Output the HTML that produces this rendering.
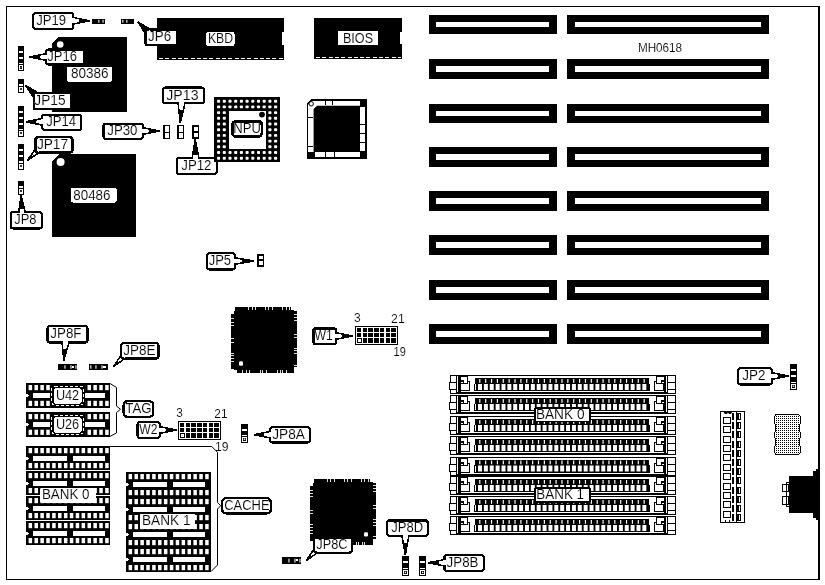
<!DOCTYPE html>
<html lang="en">
<head>
<meta charset="utf-8">
<title>MH0618 motherboard layout</title>
<style>
html,body{margin:0;padding:0;background:#fff;}
body{width:825px;height:585px;overflow:hidden;}
svg{display:block;filter:grayscale(1);}
svg text{font-family:"Liberation Sans",sans-serif;fill:#000;stroke:#fff;stroke-width:0.12px;paint-order:fill stroke;}
</style>
</head>
<body>
<svg width="825" height="585" viewBox="0 0 825 585" shape-rendering="crispEdges">
<defs>
<pattern id="ht" x="0" y="0" width="2" height="2" patternUnits="userSpaceOnUse">
<rect x="0" y="0" width="2" height="2" fill="#fff"/><rect x="0" y="0" width="1" height="1" fill="#000"/>
</pattern>
</defs>
<rect x="0" y="0" width="825" height="585" fill="#fff"/>
<rect x="6.5" y="6.5" width="812" height="573" fill="#fff" stroke="#000" stroke-width="1"/>
<rect x="818" y="6" width="2" height="574" fill="#000" />
<rect x="429" y="15" width="128" height="19" fill="#000" />
<rect x="436" y="22" width="113" height="5" fill="#fff" />
<rect x="567" y="15" width="202" height="19" fill="#000" />
<rect x="575" y="22" width="186" height="5" fill="#fff" />
<rect x="429" y="59" width="128" height="20" fill="#000" />
<rect x="436" y="66" width="113" height="6" fill="#fff" />
<rect x="567" y="59" width="202" height="20" fill="#000" />
<rect x="575" y="66" width="186" height="6" fill="#fff" />
<rect x="429" y="104" width="128" height="19" fill="#000" />
<rect x="436" y="111" width="113" height="5" fill="#fff" />
<rect x="567" y="104" width="202" height="19" fill="#000" />
<rect x="575" y="111" width="186" height="5" fill="#fff" />
<rect x="429" y="147" width="128" height="20" fill="#000" />
<rect x="436" y="154" width="113" height="6" fill="#fff" />
<rect x="567" y="147" width="202" height="20" fill="#000" />
<rect x="575" y="154" width="186" height="6" fill="#fff" />
<rect x="429" y="191" width="128" height="20" fill="#000" />
<rect x="436" y="198" width="113" height="6" fill="#fff" />
<rect x="567" y="191" width="202" height="20" fill="#000" />
<rect x="575" y="198" width="186" height="6" fill="#fff" />
<rect x="429" y="235" width="128" height="20" fill="#000" />
<rect x="436" y="242" width="113" height="6" fill="#fff" />
<rect x="567" y="235" width="202" height="20" fill="#000" />
<rect x="575" y="242" width="186" height="6" fill="#fff" />
<rect x="429" y="280" width="128" height="20" fill="#000" />
<rect x="436" y="287" width="113" height="6" fill="#fff" />
<rect x="567" y="280" width="202" height="20" fill="#000" />
<rect x="575" y="287" width="186" height="6" fill="#fff" />
<rect x="429" y="324" width="128" height="20" fill="#000" />
<rect x="436" y="331" width="113" height="6" fill="#fff" />
<rect x="567" y="324" width="202" height="20" fill="#000" />
<rect x="575" y="331" width="186" height="6" fill="#fff" />
<text x="637.9" y="52" font-size="12" textLength="44.2" lengthAdjust="spacingAndGlyphs">MH0618</text>
<rect x="157" y="18" width="127" height="41.6" fill="#000" />
<line x1="159" y1="58.1" x2="283" y2="58.1" stroke="#fff" stroke-width="1" stroke-dasharray="4 2.3"/>
<rect x="282" y="32" width="2.5" height="13" fill="#fff" />
<rect x="206" y="32" width="28.6" height="14" rx="2.6" ry="2.6" fill="#fff"/>
<text x="207.9" y="42.7" font-size="14" textLength="25.2" lengthAdjust="spacingAndGlyphs">KBD</text>
<rect x="314" y="18" width="88" height="40.6" fill="#000" />
<line x1="316" y1="57.1" x2="401" y2="57.1" stroke="#fff" stroke-width="1" stroke-dasharray="4 2.3"/>
<rect x="400" y="32" width="2.5" height="12" fill="#fff" />
<rect x="338" y="31" width="40" height="14" rx="0" ry="0" fill="#fff"/>
<text x="342.9" y="42.6" font-size="14" textLength="30.2" lengthAdjust="spacingAndGlyphs">BIOS</text>
<polygon points="52,43 58,37 127,37 127,112 52,112" fill="#000"/>
<circle cx="60.2" cy="44.5" r="3.3" fill="#fff" shape-rendering="auto"/>
<polygon points="52,161 59,154 136,154 136,237 52,237" fill="#000"/>
<circle cx="60.6" cy="162" r="4" fill="#fff" shape-rendering="auto"/>
<rect x="92" y="18.5" width="13" height="5.5" fill="#000" />
<rect x="98.3" y="19.8" width="1.1" height="2.9" fill="#fff" shape-rendering="auto"/>
<rect x="102.5" y="19.8" width="1.1" height="2.9" fill="#fff" shape-rendering="auto"/>
<polygon points="73.5,17.6 89.5,20.8 73.5,24" fill="#fff" stroke="#000" stroke-width="1.6" stroke-linejoin="miter"/>
<polygon points="79.58,18.816 89.5,20.8 79.58,22.784" fill="#000" stroke="#000" stroke-width="1"/>
<rect x="33.1" y="13.1" width="40.3" height="15.8" rx="2.6" ry="2.6" fill="#fff" stroke="#000" stroke-width="2.2"/>
<rect x="72.1" y="18.4" width="2.6" height="4.8" fill="#fff" />
<text x="36.3" y="25.1" font-size="14" textLength="29.8" lengthAdjust="spacingAndGlyphs">JP19</text>
<rect x="121" y="18.5" width="13" height="5.5" fill="#000" />
<rect x="122.3" y="19.8" width="1.1" height="2.9" fill="#fff" shape-rendering="auto"/>
<rect x="126.3" y="19.8" width="1.1" height="2.9" fill="#fff" shape-rendering="auto"/>
<rect x="18" y="46" width="6" height="25" fill="#000" />
<rect x="19" y="51" width="4" height="2" fill="#fff" />
<rect x="19" y="57" width="4" height="2" fill="#fff" />
<rect x="19" y="63" width="4" height="1.2" fill="#fff" />
<rect x="19" y="65" width="4" height="5" fill="#fff" />
<rect x="20" y="66" width="2" height="2.8" fill="#000" />
<rect x="20.7" y="66.7" width="0.6" height="1.4" fill="#fff" shape-rendering="auto"/>
<polygon points="46,53.8 29,57 46,60.2" fill="#fff" stroke="#000" stroke-width="1.6" stroke-linejoin="miter"/>
<polygon points="39.54,55.016 29,57 39.54,58.984" fill="#000" stroke="#000" stroke-width="1"/>
<rect x="46.1" y="49.5" width="38.4" height="15" rx="2.6" ry="2.6" fill="#fff" stroke="#000" stroke-width="2.2"/>
<rect x="44.8" y="54.6" width="2.6" height="4.8" fill="#fff" />
<text x="47.3" y="61.1" font-size="14" textLength="29.6" lengthAdjust="spacingAndGlyphs">JP16</text>
<rect x="67" y="67" width="45" height="14.6" rx="1.5" ry="1.5" fill="#fff"/>
<text x="70.9" y="78" font-size="14" textLength="37.6" lengthAdjust="spacingAndGlyphs">80386</text>
<rect x="18" y="79" width="6" height="13.6" fill="#000" />
<rect x="19" y="84.3" width="4" height="1.2" fill="#fff" />
<rect x="19" y="86.6" width="4" height="5" fill="#fff" />
<rect x="20" y="87.6" width="2" height="2.8" fill="#000" />
<rect x="20.7" y="88.3" width="0.6" height="1.4" fill="#fff" shape-rendering="auto"/>
<rect x="18" y="106" width="6" height="30.6" fill="#000" />
<rect x="19" y="110.92" width="4" height="2" fill="#fff" />
<rect x="19" y="116.84" width="4" height="2" fill="#fff" />
<rect x="19" y="122.76" width="4" height="2" fill="#fff" />
<rect x="19" y="128.68" width="4" height="1.2" fill="#fff" />
<rect x="19" y="130.6" width="4" height="5" fill="#fff" />
<rect x="20" y="131.6" width="2" height="2.8" fill="#000" />
<rect x="20.7" y="132.3" width="0.6" height="1.4" fill="#fff" shape-rendering="auto"/>
<polygon points="42,118.6 26,121.8 42,125" fill="#fff" stroke="#000" stroke-width="1.6" stroke-linejoin="miter"/>
<polygon points="35.92,119.816 26,121.8 35.92,123.784" fill="#000" stroke="#000" stroke-width="1"/>
<rect x="42.1" y="114.7" width="39.2" height="15.2" rx="2.6" ry="2.6" fill="#fff" stroke="#000" stroke-width="2.2"/>
<rect x="40.8" y="119.4" width="2.6" height="4.8" fill="#fff" />
<text x="46.3" y="126.4" font-size="14" textLength="29.8" lengthAdjust="spacingAndGlyphs">JP14</text>
<rect x="18" y="144" width="6" height="25.6" fill="#000" />
<rect x="19" y="149.15" width="4" height="2" fill="#fff" />
<rect x="19" y="155.3" width="4" height="2" fill="#fff" />
<rect x="19" y="161.45" width="4" height="1.2" fill="#fff" />
<rect x="19" y="163.6" width="4" height="5" fill="#fff" />
<rect x="20" y="164.6" width="2" height="2.8" fill="#000" />
<rect x="20.7" y="165.3" width="0.6" height="1.4" fill="#fff" shape-rendering="auto"/>
<rect x="18" y="181" width="6" height="13.6" fill="#000" />
<rect x="19" y="186.3" width="4" height="1.2" fill="#fff" />
<rect x="19" y="188.6" width="4" height="5" fill="#fff" />
<rect x="20" y="189.6" width="2" height="2.8" fill="#000" />
<rect x="20.7" y="190.3" width="0.6" height="1.4" fill="#fff" shape-rendering="auto"/>
<polygon points="143,127.8 160,131 143,134.2" fill="#fff" stroke="#000" stroke-width="1.6" stroke-linejoin="miter"/>
<polygon points="149.46,129.016 160,131 149.46,132.984" fill="#000" stroke="#000" stroke-width="1"/>
<rect x="103.5" y="123.7" width="39.4" height="15.2" rx="2.6" ry="2.6" fill="#fff" stroke="#000" stroke-width="2.2"/>
<rect x="141.6" y="128.6" width="2.6" height="4.8" fill="#fff" />
<text x="107.3" y="135.4" font-size="14" textLength="30.2" lengthAdjust="spacingAndGlyphs">JP30</text>
<rect x="162.6" y="125" width="7.4" height="14.4" fill="#000" />
<rect x="164.6" y="126.2" width="4.4" height="5.5" fill="#fff" />
<rect x="164.6" y="132.7" width="4.4" height="5.5" fill="#fff" />
<rect x="177" y="125" width="7.4" height="14.4" fill="#000" />
<rect x="179" y="126.2" width="4.4" height="5.5" fill="#fff" />
<rect x="179" y="132.7" width="4.4" height="5.5" fill="#fff" />
<rect x="192" y="125" width="6.6" height="14.4" fill="#000" />
<rect x="194" y="127" width="3.6" height="4.2" fill="#fff" />
<rect x="194" y="133.2" width="3.6" height="4.2" fill="#fff" />
<polygon points="178.1,103.4 180.3,123 184.9,103.4" fill="#fff" stroke="#000" stroke-width="1.6" stroke-linejoin="miter"/>
<polygon points="178.936,110.848 180.3,123 183.152,110.848" fill="#000" stroke="#000" stroke-width="1"/>
<rect x="163.1" y="87.5" width="40.8" height="15.8" rx="2.6" ry="2.6" fill="#fff" stroke="#000" stroke-width="2.2"/>
<rect x="178.9" y="102" width="5.2" height="2.6" fill="#fff" />
<text x="166.3" y="99.5" font-size="14" textLength="32.2" lengthAdjust="spacingAndGlyphs">JP13</text>
<polygon points="192.1,158 195.3,139.5 198.9,158" fill="#fff" stroke="#000" stroke-width="1.6" stroke-linejoin="miter"/>
<polygon points="192.74,154.3 195.3,139.5 198.18,154.3" fill="#000" stroke="#000" stroke-width="1"/>
<rect x="176.7" y="158.1" width="40.2" height="15.8" rx="2.6" ry="2.6" fill="#fff" stroke="#000" stroke-width="2.2"/>
<rect x="192.9" y="156.8" width="5.2" height="2.6" fill="#fff" />
<text x="181.3" y="170.1" font-size="14" textLength="30.2" lengthAdjust="spacingAndGlyphs">JP12</text>
<rect x="71" y="187.6" width="45.6" height="15" rx="2.5" ry="2.5" fill="#fff"/>
<text x="73.3" y="199.6" font-size="14" textLength="37.2" lengthAdjust="spacingAndGlyphs">80486</text>
<polygon points="145.1,33.3 138,22 149.8,29.1" fill="#fff" stroke="#000" stroke-width="1.6"/>
<polygon points="143.68,31.04 138,22 147.44,27.68" fill="#000" stroke="#000" stroke-width="1.2"/>
<rect x="145.4" y="29.4" width="32" height="15.8" rx="2.6" ry="2.6" fill="#fff" stroke="#000" stroke-width="2.2"/>
<polygon points="146,33.3 149.8,30 150.8,32.3 148.3,33.3" fill="#fff"/>
<text x="148" y="41.4" font-size="14" textLength="23.1" lengthAdjust="spacingAndGlyphs">JP6</text>
<polygon points="33.3,97 25.5,85.5 38,92.8" fill="#fff" stroke="#000" stroke-width="1.6"/>
<polygon points="31.74,94.7 25.5,85.5 35.5,91.34" fill="#000" stroke="#000" stroke-width="1.2"/>
<rect x="33.6" y="93.1" width="37.8" height="16.3" rx="2.6" ry="2.6" fill="#fff" stroke="#000" stroke-width="2.2"/>
<polygon points="34.2,97 38,93.7 39,96 36.5,97" fill="#fff"/>
<text x="34.3" y="104.75" font-size="14" textLength="31.2" lengthAdjust="spacingAndGlyphs">JP15</text>
<polygon points="35.1,149.6 27.3,160.6 38.8,152.8" fill="#fff" stroke="#000" stroke-width="1.6"/>
<polygon points="30.42,156.2 27.3,160.6 31.9,157.48" fill="#000" stroke="#000" stroke-width="1.2"/>
<rect x="35.4" y="137.3" width="37.1" height="15.2" rx="2.6" ry="2.6" fill="#fff" stroke="#000" stroke-width="2.2"/>
<polygon points="36,149.6 38.8,151.9 39.8,149.6 38.3,149.6" fill="#fff"/>
<text x="36.9" y="149" font-size="14" textLength="31.2" lengthAdjust="spacingAndGlyphs">JP17</text>
<polygon points="18.8,212 21,195.5 25.2,212" fill="#fff" stroke="#000" stroke-width="1.6" stroke-linejoin="miter"/>
<polygon points="19.24,208.7 21,195.5 24.36,208.7" fill="#000" stroke="#000" stroke-width="1"/>
<rect x="10.7" y="212.1" width="31.2" height="16.4" rx="2.6" ry="2.6" fill="#fff" stroke="#000" stroke-width="2.2"/>
<rect x="19.6" y="210.8" width="4.8" height="2.6" fill="#fff" />
<text x="14.3" y="224.4" font-size="14" textLength="22.2" lengthAdjust="spacingAndGlyphs">JP8</text>
<rect x="214" y="97" width="66" height="65" fill="#000" />
<rect x="217.05" y="99.75" width="3.1" height="2.9" rx="0.9" fill="#fff" shape-rendering="auto"/>
<rect x="217.05" y="105.45" width="3.1" height="2.9" rx="0.9" fill="#fff" shape-rendering="auto"/>
<rect x="217.05" y="111.15" width="3.1" height="2.9" rx="0.9" fill="#fff" shape-rendering="auto"/>
<rect x="217.05" y="116.85" width="3.1" height="2.9" rx="0.9" fill="#fff" shape-rendering="auto"/>
<rect x="217.05" y="122.55" width="3.1" height="2.9" rx="0.9" fill="#fff" shape-rendering="auto"/>
<rect x="217.05" y="128.25" width="3.1" height="2.9" rx="0.9" fill="#fff" shape-rendering="auto"/>
<rect x="217.05" y="133.95" width="3.1" height="2.9" rx="0.9" fill="#fff" shape-rendering="auto"/>
<rect x="217.05" y="139.65" width="3.1" height="2.9" rx="0.9" fill="#fff" shape-rendering="auto"/>
<rect x="217.05" y="145.35" width="3.1" height="2.9" rx="0.9" fill="#fff" shape-rendering="auto"/>
<rect x="217.05" y="151.05" width="3.1" height="2.9" rx="0.9" fill="#fff" shape-rendering="auto"/>
<rect x="217.05" y="156.75" width="3.1" height="2.9" rx="0.9" fill="#fff" shape-rendering="auto"/>
<rect x="222.75" y="99.75" width="3.1" height="2.9" rx="0.9" fill="#fff" shape-rendering="auto"/>
<rect x="222.75" y="105.45" width="3.1" height="2.9" rx="0.9" fill="#fff" shape-rendering="auto"/>
<rect x="222.75" y="111.15" width="3.1" height="2.9" rx="0.9" fill="#fff" shape-rendering="auto"/>
<rect x="222.75" y="116.85" width="3.1" height="2.9" rx="0.9" fill="#fff" shape-rendering="auto"/>
<rect x="222.75" y="122.55" width="3.1" height="2.9" rx="0.9" fill="#fff" shape-rendering="auto"/>
<rect x="222.75" y="128.25" width="3.1" height="2.9" rx="0.9" fill="#fff" shape-rendering="auto"/>
<rect x="222.75" y="133.95" width="3.1" height="2.9" rx="0.9" fill="#fff" shape-rendering="auto"/>
<rect x="222.75" y="139.65" width="3.1" height="2.9" rx="0.9" fill="#fff" shape-rendering="auto"/>
<rect x="222.75" y="145.35" width="3.1" height="2.9" rx="0.9" fill="#fff" shape-rendering="auto"/>
<rect x="222.75" y="151.05" width="3.1" height="2.9" rx="0.9" fill="#fff" shape-rendering="auto"/>
<rect x="222.75" y="156.75" width="3.1" height="2.9" rx="0.9" fill="#fff" shape-rendering="auto"/>
<rect x="228.45" y="99.75" width="3.1" height="2.9" rx="0.9" fill="#fff" shape-rendering="auto"/>
<rect x="228.45" y="105.45" width="3.1" height="2.9" rx="0.9" fill="#fff" shape-rendering="auto"/>
<rect x="228.45" y="151.05" width="3.1" height="2.9" rx="0.9" fill="#fff" shape-rendering="auto"/>
<rect x="228.45" y="156.75" width="3.1" height="2.9" rx="0.9" fill="#fff" shape-rendering="auto"/>
<rect x="234.15" y="99.75" width="3.1" height="2.9" rx="0.9" fill="#fff" shape-rendering="auto"/>
<rect x="234.15" y="105.45" width="3.1" height="2.9" rx="0.9" fill="#fff" shape-rendering="auto"/>
<rect x="234.15" y="151.05" width="3.1" height="2.9" rx="0.9" fill="#fff" shape-rendering="auto"/>
<rect x="234.15" y="156.75" width="3.1" height="2.9" rx="0.9" fill="#fff" shape-rendering="auto"/>
<rect x="239.85" y="99.75" width="3.1" height="2.9" rx="0.9" fill="#fff" shape-rendering="auto"/>
<rect x="239.85" y="105.45" width="3.1" height="2.9" rx="0.9" fill="#fff" shape-rendering="auto"/>
<rect x="239.85" y="151.05" width="3.1" height="2.9" rx="0.9" fill="#fff" shape-rendering="auto"/>
<rect x="239.85" y="156.75" width="3.1" height="2.9" rx="0.9" fill="#fff" shape-rendering="auto"/>
<rect x="245.55" y="99.75" width="3.1" height="2.9" rx="0.9" fill="#fff" shape-rendering="auto"/>
<rect x="245.55" y="105.45" width="3.1" height="2.9" rx="0.9" fill="#fff" shape-rendering="auto"/>
<rect x="245.55" y="151.05" width="3.1" height="2.9" rx="0.9" fill="#fff" shape-rendering="auto"/>
<rect x="245.55" y="156.75" width="3.1" height="2.9" rx="0.9" fill="#fff" shape-rendering="auto"/>
<rect x="251.25" y="99.75" width="3.1" height="2.9" rx="0.9" fill="#fff" shape-rendering="auto"/>
<rect x="251.25" y="105.45" width="3.1" height="2.9" rx="0.9" fill="#fff" shape-rendering="auto"/>
<rect x="251.25" y="151.05" width="3.1" height="2.9" rx="0.9" fill="#fff" shape-rendering="auto"/>
<rect x="251.25" y="156.75" width="3.1" height="2.9" rx="0.9" fill="#fff" shape-rendering="auto"/>
<rect x="256.95" y="99.75" width="3.1" height="2.9" rx="0.9" fill="#fff" shape-rendering="auto"/>
<rect x="256.95" y="105.45" width="3.1" height="2.9" rx="0.9" fill="#fff" shape-rendering="auto"/>
<rect x="256.95" y="151.05" width="3.1" height="2.9" rx="0.9" fill="#fff" shape-rendering="auto"/>
<rect x="256.95" y="156.75" width="3.1" height="2.9" rx="0.9" fill="#fff" shape-rendering="auto"/>
<rect x="262.65" y="99.75" width="3.1" height="2.9" rx="0.9" fill="#fff" shape-rendering="auto"/>
<rect x="262.65" y="105.45" width="3.1" height="2.9" rx="0.9" fill="#fff" shape-rendering="auto"/>
<rect x="262.65" y="151.05" width="3.1" height="2.9" rx="0.9" fill="#fff" shape-rendering="auto"/>
<rect x="262.65" y="156.75" width="3.1" height="2.9" rx="0.9" fill="#fff" shape-rendering="auto"/>
<rect x="268.35" y="99.75" width="3.1" height="2.9" rx="0.9" fill="#fff" shape-rendering="auto"/>
<rect x="268.35" y="105.45" width="3.1" height="2.9" rx="0.9" fill="#fff" shape-rendering="auto"/>
<rect x="268.35" y="111.15" width="3.1" height="2.9" rx="0.9" fill="#fff" shape-rendering="auto"/>
<rect x="268.35" y="116.85" width="3.1" height="2.9" rx="0.9" fill="#fff" shape-rendering="auto"/>
<rect x="268.35" y="122.55" width="3.1" height="2.9" rx="0.9" fill="#fff" shape-rendering="auto"/>
<rect x="268.35" y="128.25" width="3.1" height="2.9" rx="0.9" fill="#fff" shape-rendering="auto"/>
<rect x="268.35" y="133.95" width="3.1" height="2.9" rx="0.9" fill="#fff" shape-rendering="auto"/>
<rect x="268.35" y="139.65" width="3.1" height="2.9" rx="0.9" fill="#fff" shape-rendering="auto"/>
<rect x="268.35" y="145.35" width="3.1" height="2.9" rx="0.9" fill="#fff" shape-rendering="auto"/>
<rect x="268.35" y="151.05" width="3.1" height="2.9" rx="0.9" fill="#fff" shape-rendering="auto"/>
<rect x="268.35" y="156.75" width="3.1" height="2.9" rx="0.9" fill="#fff" shape-rendering="auto"/>
<rect x="274.05" y="99.75" width="3.1" height="2.9" rx="0.9" fill="#fff" shape-rendering="auto"/>
<rect x="274.05" y="105.45" width="3.1" height="2.9" rx="0.9" fill="#fff" shape-rendering="auto"/>
<rect x="274.05" y="111.15" width="3.1" height="2.9" rx="0.9" fill="#fff" shape-rendering="auto"/>
<rect x="274.05" y="116.85" width="3.1" height="2.9" rx="0.9" fill="#fff" shape-rendering="auto"/>
<rect x="274.05" y="122.55" width="3.1" height="2.9" rx="0.9" fill="#fff" shape-rendering="auto"/>
<rect x="274.05" y="128.25" width="3.1" height="2.9" rx="0.9" fill="#fff" shape-rendering="auto"/>
<rect x="274.05" y="133.95" width="3.1" height="2.9" rx="0.9" fill="#fff" shape-rendering="auto"/>
<rect x="274.05" y="139.65" width="3.1" height="2.9" rx="0.9" fill="#fff" shape-rendering="auto"/>
<rect x="274.05" y="145.35" width="3.1" height="2.9" rx="0.9" fill="#fff" shape-rendering="auto"/>
<rect x="274.05" y="151.05" width="3.1" height="2.9" rx="0.9" fill="#fff" shape-rendering="auto"/>
<rect x="274.05" y="156.75" width="3.1" height="2.9" rx="0.9" fill="#fff" shape-rendering="auto"/>
<rect x="229" y="111" width="37.4" height="37.5" fill="#fff" />
<circle cx="262" cy="114.6" r="2.9" fill="#000" shape-rendering="auto"/>
<rect x="232.4" y="121.1" width="29.5" height="15.5" rx="4" ry="4" fill="#fff" stroke="#000" stroke-width="2.8"/>
<text x="233.3" y="132.95" font-size="14" textLength="27.6" lengthAdjust="spacingAndGlyphs">NPU</text>
<polygon points="307.5,103.5 311.5,99.5 366.5,99.5 366.5,158.5 307.5,158.5" fill="#fff" stroke="#000" stroke-width="1" shape-rendering="auto"/>
<rect x="311" y="99" width="56" height="2" fill="#000" />
<polygon points="307,103.5 311.5,99 312.5,100.5 308.5,104.5" fill="#000" shape-rendering="auto"/>
<rect x="365" y="99" width="2" height="60" fill="#000" />
<rect x="307" y="157" width="60" height="2" fill="#000" />
<polygon points="313.6,109 317,105.7 360,105.7 360,152 313.6,152" fill="#000" shape-rendering="auto"/>
<rect x="359.5" y="99" width="7.5" height="7.7" fill="#000" />
<rect x="307" y="151.5" width="6.6" height="7.5" fill="#000" />
<rect x="360" y="151" width="7" height="8" fill="#000" />
<circle cx="311.2" cy="103.8" r="2.2" fill="#fff" stroke="#000" stroke-width="1" shape-rendering="auto"/>
<rect x="325" y="101" width="1" height="3.6" fill="#000" />
<rect x="332" y="101" width="1" height="3.6" fill="#000" />
<rect x="308" y="117" width="5" height="1" fill="#000" />
<rect x="308" y="146" width="5" height="1" fill="#000" />
<rect x="360" y="124" width="5" height="1" fill="#000" />
<rect x="360" y="133" width="5" height="1" fill="#000" />
<rect x="360" y="142" width="5" height="1" fill="#000" />
<rect x="325" y="152" width="1" height="5" fill="#000" />
<rect x="334" y="152" width="1" height="5" fill="#000" />
<rect x="313.6" y="152" width="1.4" height="5" fill="#000" />
<polygon points="231,314 234,314 234,311 235,311 235,307 291,307 291,310 294,310 294,311 297,311 297,367 294,367 294,373 237,373 237,370 234,370 234,369 231,369" fill="#000"/>
<rect x="248" y="307" width="1" height="3" fill="#ddd" />
<rect x="252" y="307" width="1" height="3" fill="#ddd" />
<rect x="255" y="307" width="1" height="3" fill="#ddd" />
<rect x="265" y="307" width="1" height="3" fill="#ddd" />
<rect x="268" y="307" width="1" height="3" fill="#ddd" />
<rect x="272" y="307" width="1" height="3" fill="#ddd" />
<rect x="282" y="307" width="1" height="3" fill="#ddd" />
<rect x="286" y="307" width="1" height="3" fill="#ddd" />
<rect x="289" y="307" width="1" height="3" fill="#ddd" />
<rect x="242" y="370" width="1" height="3" fill="#ddd" />
<rect x="246" y="370" width="1" height="3" fill="#ddd" />
<rect x="249" y="370" width="1" height="3" fill="#ddd" />
<rect x="260" y="370" width="1" height="3" fill="#ddd" />
<rect x="262" y="370" width="1" height="3" fill="#ddd" />
<rect x="266" y="370" width="1" height="3" fill="#ddd" />
<rect x="277" y="370" width="1" height="3" fill="#ddd" />
<rect x="280" y="370" width="1" height="3" fill="#ddd" />
<rect x="282" y="370" width="1" height="3" fill="#ddd" />
<rect x="286" y="370" width="1" height="3" fill="#ddd" />
<rect x="231" y="318" width="3" height="1" fill="#ddd" />
<rect x="231" y="322" width="3" height="1" fill="#ddd" />
<rect x="231" y="325" width="3" height="1" fill="#ddd" />
<rect x="231" y="338" width="3" height="1" fill="#ddd" />
<rect x="231" y="342" width="3" height="1" fill="#ddd" />
<rect x="231" y="353" width="3" height="1" fill="#ddd" />
<rect x="231" y="355" width="3" height="1" fill="#ddd" />
<rect x="231" y="358" width="3" height="1" fill="#ddd" />
<rect x="231" y="361" width="3" height="1" fill="#ddd" />
<rect x="294" y="314" width="3" height="1" fill="#ddd" />
<rect x="294" y="317" width="3" height="1" fill="#ddd" />
<rect x="294" y="320" width="3" height="1" fill="#ddd" />
<rect x="294" y="334" width="3" height="1" fill="#ddd" />
<rect x="294" y="337" width="3" height="1" fill="#ddd" />
<rect x="294" y="348" width="3" height="1" fill="#ddd" />
<rect x="294" y="350" width="3" height="1" fill="#ddd" />
<rect x="294" y="353" width="3" height="1" fill="#ddd" />
<rect x="294" y="365" width="3" height="1" fill="#ddd" />
<rect x="239" y="361.3" width="4" height="4.4" rx="1.3" fill="#fff" shape-rendering="auto"/>
<polygon points="310,485.6 313,485.6 313,482.6 314,482.6 314,478.6 370,478.6 370,481.6 373,481.6 373,482.6 376,482.6 376,538.6 373,538.6 373,544.6 316,544.6 316,541.6 313,541.6 313,540.6 310,540.6" fill="#000"/>
<rect x="327" y="478.6" width="1" height="3" fill="#ddd" />
<rect x="330" y="478.6" width="1" height="3" fill="#ddd" />
<rect x="334" y="478.6" width="1" height="3" fill="#ddd" />
<rect x="344" y="478.6" width="1" height="3" fill="#ddd" />
<rect x="347" y="478.6" width="1" height="3" fill="#ddd" />
<rect x="351" y="478.6" width="1" height="3" fill="#ddd" />
<rect x="361" y="478.6" width="1" height="3" fill="#ddd" />
<rect x="364" y="478.6" width="1" height="3" fill="#ddd" />
<rect x="368" y="478.6" width="1" height="3" fill="#ddd" />
<rect x="321" y="541.6" width="1" height="3" fill="#ddd" />
<rect x="325" y="541.6" width="1" height="3" fill="#ddd" />
<rect x="328" y="541.6" width="1" height="3" fill="#ddd" />
<rect x="338" y="541.6" width="1" height="3" fill="#ddd" />
<rect x="341" y="541.6" width="1" height="3" fill="#ddd" />
<rect x="345" y="541.6" width="1" height="3" fill="#ddd" />
<rect x="356" y="541.6" width="1" height="3" fill="#ddd" />
<rect x="358" y="541.6" width="1" height="3" fill="#ddd" />
<rect x="362" y="541.6" width="1" height="3" fill="#ddd" />
<rect x="364" y="541.6" width="1" height="3" fill="#ddd" />
<rect x="310" y="490" width="3" height="1" fill="#ddd" />
<rect x="310" y="493" width="3" height="1" fill="#ddd" />
<rect x="310" y="496" width="3" height="1" fill="#ddd" />
<rect x="310" y="510" width="3" height="1" fill="#ddd" />
<rect x="310" y="513" width="3" height="1" fill="#ddd" />
<rect x="310" y="524" width="3" height="1" fill="#ddd" />
<rect x="310" y="527" width="3" height="1" fill="#ddd" />
<rect x="310" y="530" width="3" height="1" fill="#ddd" />
<rect x="310" y="533" width="3" height="1" fill="#ddd" />
<rect x="373" y="485" width="3" height="1" fill="#ddd" />
<rect x="373" y="488" width="3" height="1" fill="#ddd" />
<rect x="373" y="491" width="3" height="1" fill="#ddd" />
<rect x="373" y="505" width="3" height="1" fill="#ddd" />
<rect x="373" y="508" width="3" height="1" fill="#ddd" />
<rect x="373" y="519" width="3" height="1" fill="#ddd" />
<rect x="373" y="522" width="3" height="1" fill="#ddd" />
<rect x="373" y="525" width="3" height="1" fill="#ddd" />
<rect x="373" y="536" width="3" height="1" fill="#ddd" />
<rect x="364" y="532.2" width="4" height="4.4" rx="1.3" fill="#fff" shape-rendering="auto"/>
<polygon points="235,257.8 254,261 235,264.2" fill="#fff" stroke="#000" stroke-width="1.6" stroke-linejoin="miter"/>
<polygon points="242.22,259.016 254,261 242.22,262.984" fill="#000" stroke="#000" stroke-width="1"/>
<rect x="207.1" y="253.1" width="27.8" height="16.4" rx="2.6" ry="2.6" fill="#fff" stroke="#000" stroke-width="2.2"/>
<rect x="233.6" y="258.6" width="2.6" height="4.8" fill="#fff" />
<text x="208.7" y="265.4" font-size="14" textLength="22.4" lengthAdjust="spacingAndGlyphs">JP5</text>
<rect x="257" y="253.6" width="7" height="13.6" fill="#000" />
<rect x="259" y="255.6" width="4" height="3.8" fill="#fff" />
<rect x="259" y="261.4" width="4" height="3.8" fill="#fff" />
<rect x="355.5" y="326.5" width="42" height="17.7" fill="#fff" stroke="#000" stroke-width="1"/>
<rect x="357" y="328" width="4.41429" height="4.03333" fill="#000" />
<rect x="357" y="333.233" width="4.41429" height="4.03333" fill="#000" />
<rect x="357.5" y="338.967" width="3.71429" height="3.23333" fill="#fff" stroke="#000" stroke-width="1"/>
<rect x="362.714" y="328" width="4.41429" height="4.03333" fill="#000" />
<rect x="362.714" y="333.233" width="4.41429" height="4.03333" fill="#000" />
<rect x="362.714" y="338.467" width="4.41429" height="4.03333" fill="#000" />
<rect x="368.429" y="328" width="4.41429" height="4.03333" fill="#000" />
<rect x="368.429" y="333.233" width="4.41429" height="4.03333" fill="#000" />
<rect x="368.429" y="338.467" width="4.41429" height="4.03333" fill="#000" />
<rect x="374.143" y="328" width="4.41429" height="4.03333" fill="#000" />
<rect x="374.143" y="333.233" width="4.41429" height="4.03333" fill="#000" />
<rect x="374.143" y="338.467" width="4.41429" height="4.03333" fill="#000" />
<rect x="379.857" y="328" width="4.41429" height="4.03333" fill="#000" />
<rect x="379.857" y="333.233" width="4.41429" height="4.03333" fill="#000" />
<rect x="379.857" y="338.467" width="4.41429" height="4.03333" fill="#000" />
<rect x="385.571" y="328" width="4.41429" height="4.03333" fill="#000" />
<rect x="385.571" y="333.233" width="4.41429" height="4.03333" fill="#000" />
<rect x="385.571" y="338.467" width="4.41429" height="4.03333" fill="#000" />
<rect x="391.286" y="328" width="4.41429" height="4.03333" fill="#000" />
<rect x="391.286" y="333.233" width="4.41429" height="4.03333" fill="#000" />
<rect x="391.286" y="338.467" width="4.41429" height="4.03333" fill="#000" />
<polygon points="336.3,332.8 353,336 336.3,339.2" fill="#fff" stroke="#000" stroke-width="1.6" stroke-linejoin="miter"/>
<polygon points="342.646,334.016 353,336 342.646,337.984" fill="#000" stroke="#000" stroke-width="1"/>
<rect x="313.4" y="328.4" width="22.8" height="15.8" rx="2.6" ry="2.6" fill="#fff" stroke="#000" stroke-width="2.2"/>
<rect x="334.9" y="333.6" width="2.6" height="4.8" fill="#fff" />
<text x="314.6" y="340.4" font-size="14" textLength="18.3" lengthAdjust="spacingAndGlyphs">W1</text>
<text x="354" y="322" font-size="12" textLength="6.7" lengthAdjust="spacingAndGlyphs">3</text>
<text x="391.1" y="322.8" font-size="12" textLength="13.6" lengthAdjust="spacingAndGlyphs">21</text>
<text x="393.5" y="356" font-size="12" textLength="12.3" lengthAdjust="spacingAndGlyphs">19</text>
<rect x="178.5" y="421.5" width="42" height="17.7" fill="#fff" stroke="#000" stroke-width="1"/>
<rect x="180" y="423" width="4.41429" height="4.03333" fill="#000" />
<rect x="180" y="428.233" width="4.41429" height="4.03333" fill="#000" />
<rect x="180.5" y="433.967" width="3.71429" height="3.23333" fill="#fff" stroke="#000" stroke-width="1"/>
<rect x="185.714" y="423" width="4.41429" height="4.03333" fill="#000" />
<rect x="185.714" y="428.233" width="4.41429" height="4.03333" fill="#000" />
<rect x="185.714" y="433.467" width="4.41429" height="4.03333" fill="#000" />
<rect x="191.429" y="423" width="4.41429" height="4.03333" fill="#000" />
<rect x="191.429" y="428.233" width="4.41429" height="4.03333" fill="#000" />
<rect x="191.429" y="433.467" width="4.41429" height="4.03333" fill="#000" />
<rect x="197.143" y="423" width="4.41429" height="4.03333" fill="#000" />
<rect x="197.143" y="428.233" width="4.41429" height="4.03333" fill="#000" />
<rect x="197.143" y="433.467" width="4.41429" height="4.03333" fill="#000" />
<rect x="202.857" y="423" width="4.41429" height="4.03333" fill="#000" />
<rect x="202.857" y="428.233" width="4.41429" height="4.03333" fill="#000" />
<rect x="202.857" y="433.467" width="4.41429" height="4.03333" fill="#000" />
<rect x="208.571" y="423" width="4.41429" height="4.03333" fill="#000" />
<rect x="208.571" y="428.233" width="4.41429" height="4.03333" fill="#000" />
<rect x="208.571" y="433.467" width="4.41429" height="4.03333" fill="#000" />
<rect x="214.286" y="423" width="4.41429" height="4.03333" fill="#000" />
<rect x="214.286" y="428.233" width="4.41429" height="4.03333" fill="#000" />
<rect x="214.286" y="433.467" width="4.41429" height="4.03333" fill="#000" />
<polygon points="160,426.8 177,430 160,433.2" fill="#fff" stroke="#000" stroke-width="1.6" stroke-linejoin="miter"/>
<polygon points="166.46,428.016 177,430 166.46,431.984" fill="#000" stroke="#000" stroke-width="1"/>
<rect x="137.5" y="422.1" width="22.4" height="15.8" rx="2.6" ry="2.6" fill="#fff" stroke="#000" stroke-width="2.2"/>
<rect x="158.6" y="427.6" width="2.6" height="4.8" fill="#fff" />
<text x="139.3" y="434.1" font-size="14" textLength="18.2" lengthAdjust="spacingAndGlyphs">W2</text>
<text x="176.3" y="417" font-size="12" textLength="6.6" lengthAdjust="spacingAndGlyphs">3</text>
<text x="214.3" y="417.8" font-size="12" textLength="13.2" lengthAdjust="spacingAndGlyphs">21</text>
<text x="214.9" y="451" font-size="12" textLength="13.6" lengthAdjust="spacingAndGlyphs">19</text>
<rect x="58" y="364" width="19" height="6" fill="#000" />
<rect x="72.3" y="366" width="1.7" height="2" fill="#fff" />
<rect x="64.4" y="365.3" width="1.1" height="3.4" fill="#fff" shape-rendering="auto"/>
<rect x="70.4" y="365.3" width="1.1" height="3.4" fill="#fff" shape-rendering="auto"/>
<rect x="75.4" y="365.3" width="1.1" height="3.4" fill="#fff" shape-rendering="auto"/>
<rect x="89" y="364" width="19" height="6" fill="#000" />
<rect x="103.2" y="366.3" width="2.8" height="1.4" fill="#fff" />
<rect x="90.3" y="365.3" width="1.1" height="3.4" fill="#fff" shape-rendering="auto"/>
<rect x="95.4" y="365.3" width="1.1" height="3.4" fill="#fff" shape-rendering="auto"/>
<rect x="101.5" y="365.3" width="1.1" height="3.4" fill="#fff" shape-rendering="auto"/>
<polygon points="62.1,342.6 63.8,360.5 68.9,342.6" fill="#fff" stroke="#000" stroke-width="1.6" stroke-linejoin="miter"/>
<polygon points="62.746,349.402 63.8,360.5 66.962,349.402" fill="#000" stroke="#000" stroke-width="1"/>
<rect x="47.5" y="326.1" width="40" height="16.4" rx="2.6" ry="2.6" fill="#fff" stroke="#000" stroke-width="2.2"/>
<rect x="62.9" y="341.2" width="5.2" height="2.6" fill="#fff" />
<text x="50.3" y="338.4" font-size="14" textLength="31.2" lengthAdjust="spacingAndGlyphs">JP8F</text>
<polygon points="120.8,355.6 113.5,366.5 124.5,358.8" fill="#fff" stroke="#000" stroke-width="1.6"/>
<polygon points="116.42,362.14 113.5,366.5 117.9,363.42" fill="#000" stroke="#000" stroke-width="1.2"/>
<rect x="121.1" y="343.1" width="37.4" height="15.4" rx="2.6" ry="2.6" fill="#fff" stroke="#000" stroke-width="2.2"/>
<polygon points="121.7,355.6 124.5,357.9 125.5,355.6 124,355.6" fill="#fff"/>
<text x="123.3" y="354.9" font-size="14" textLength="32.2" lengthAdjust="spacingAndGlyphs">JP8E</text>
<rect x="26" y="383" width="84" height="24.8" fill="#000" />
<rect x="28.6" y="385" width="3.5" height="5.2" fill="#fff" shape-rendering="auto"/>
<rect x="28.6" y="400.8" width="3.5" height="5.2" fill="#fff" shape-rendering="auto"/>
<rect x="34.49" y="385" width="3.5" height="5.2" fill="#fff" shape-rendering="auto"/>
<rect x="34.49" y="400.8" width="3.5" height="5.2" fill="#fff" shape-rendering="auto"/>
<rect x="40.38" y="385" width="3.5" height="5.2" fill="#fff" shape-rendering="auto"/>
<rect x="40.38" y="400.8" width="3.5" height="5.2" fill="#fff" shape-rendering="auto"/>
<rect x="46.27" y="385" width="3.5" height="5.2" fill="#fff" shape-rendering="auto"/>
<rect x="46.27" y="400.8" width="3.5" height="5.2" fill="#fff" shape-rendering="auto"/>
<rect x="52.16" y="385" width="3.5" height="5.2" fill="#fff" shape-rendering="auto"/>
<rect x="52.16" y="400.8" width="3.5" height="5.2" fill="#fff" shape-rendering="auto"/>
<rect x="58.05" y="385" width="3.5" height="5.2" fill="#fff" shape-rendering="auto"/>
<rect x="58.05" y="400.8" width="3.5" height="5.2" fill="#fff" shape-rendering="auto"/>
<rect x="63.94" y="385" width="3.5" height="5.2" fill="#fff" shape-rendering="auto"/>
<rect x="63.94" y="400.8" width="3.5" height="5.2" fill="#fff" shape-rendering="auto"/>
<rect x="69.83" y="385" width="3.5" height="5.2" fill="#fff" shape-rendering="auto"/>
<rect x="69.83" y="400.8" width="3.5" height="5.2" fill="#fff" shape-rendering="auto"/>
<rect x="75.72" y="385" width="3.5" height="5.2" fill="#fff" shape-rendering="auto"/>
<rect x="75.72" y="400.8" width="3.5" height="5.2" fill="#fff" shape-rendering="auto"/>
<rect x="81.61" y="385" width="3.5" height="5.2" fill="#fff" shape-rendering="auto"/>
<rect x="81.61" y="400.8" width="3.5" height="5.2" fill="#fff" shape-rendering="auto"/>
<rect x="87.5" y="385" width="3.5" height="5.2" fill="#fff" shape-rendering="auto"/>
<rect x="87.5" y="400.8" width="3.5" height="5.2" fill="#fff" shape-rendering="auto"/>
<rect x="93.39" y="385" width="3.5" height="5.2" fill="#fff" shape-rendering="auto"/>
<rect x="93.39" y="400.8" width="3.5" height="5.2" fill="#fff" shape-rendering="auto"/>
<rect x="99.28" y="385" width="3.5" height="5.2" fill="#fff" shape-rendering="auto"/>
<rect x="99.28" y="400.8" width="3.5" height="5.2" fill="#fff" shape-rendering="auto"/>
<rect x="105.17" y="385" width="3.5" height="5.2" fill="#fff" shape-rendering="auto"/>
<rect x="105.17" y="400.8" width="3.5" height="5.2" fill="#fff" shape-rendering="auto"/>
<rect x="33" y="393" width="18" height="5" fill="#fff" />
<rect x="85" y="393" width="20.4" height="5" fill="#fff" />
<polygon points="25.8,393.3 29,395.5 25.8,397.7" fill="#fff"/>
<rect x="50.2" y="384.8" width="35" height="21.6" fill="#000" />
<rect x="51.7" y="386.3" width="32" height="18.8" rx="3" fill="none" stroke="#fff" stroke-width="1" stroke-dasharray="3 2"/>
<rect x="53.7" y="388.3" width="28" height="15.4" rx="2.5" fill="#fff"/>
<text x="55.9" y="400" font-size="14" textLength="23.3" lengthAdjust="spacingAndGlyphs">U42</text>
<rect x="26" y="412" width="84" height="24.7" fill="#000" />
<rect x="28.6" y="414" width="3.5" height="5.2" fill="#fff" shape-rendering="auto"/>
<rect x="28.6" y="429.7" width="3.5" height="5.2" fill="#fff" shape-rendering="auto"/>
<rect x="34.49" y="414" width="3.5" height="5.2" fill="#fff" shape-rendering="auto"/>
<rect x="34.49" y="429.7" width="3.5" height="5.2" fill="#fff" shape-rendering="auto"/>
<rect x="40.38" y="414" width="3.5" height="5.2" fill="#fff" shape-rendering="auto"/>
<rect x="40.38" y="429.7" width="3.5" height="5.2" fill="#fff" shape-rendering="auto"/>
<rect x="46.27" y="414" width="3.5" height="5.2" fill="#fff" shape-rendering="auto"/>
<rect x="46.27" y="429.7" width="3.5" height="5.2" fill="#fff" shape-rendering="auto"/>
<rect x="52.16" y="414" width="3.5" height="5.2" fill="#fff" shape-rendering="auto"/>
<rect x="52.16" y="429.7" width="3.5" height="5.2" fill="#fff" shape-rendering="auto"/>
<rect x="58.05" y="414" width="3.5" height="5.2" fill="#fff" shape-rendering="auto"/>
<rect x="58.05" y="429.7" width="3.5" height="5.2" fill="#fff" shape-rendering="auto"/>
<rect x="63.94" y="414" width="3.5" height="5.2" fill="#fff" shape-rendering="auto"/>
<rect x="63.94" y="429.7" width="3.5" height="5.2" fill="#fff" shape-rendering="auto"/>
<rect x="69.83" y="414" width="3.5" height="5.2" fill="#fff" shape-rendering="auto"/>
<rect x="69.83" y="429.7" width="3.5" height="5.2" fill="#fff" shape-rendering="auto"/>
<rect x="75.72" y="414" width="3.5" height="5.2" fill="#fff" shape-rendering="auto"/>
<rect x="75.72" y="429.7" width="3.5" height="5.2" fill="#fff" shape-rendering="auto"/>
<rect x="81.61" y="414" width="3.5" height="5.2" fill="#fff" shape-rendering="auto"/>
<rect x="81.61" y="429.7" width="3.5" height="5.2" fill="#fff" shape-rendering="auto"/>
<rect x="87.5" y="414" width="3.5" height="5.2" fill="#fff" shape-rendering="auto"/>
<rect x="87.5" y="429.7" width="3.5" height="5.2" fill="#fff" shape-rendering="auto"/>
<rect x="93.39" y="414" width="3.5" height="5.2" fill="#fff" shape-rendering="auto"/>
<rect x="93.39" y="429.7" width="3.5" height="5.2" fill="#fff" shape-rendering="auto"/>
<rect x="99.28" y="414" width="3.5" height="5.2" fill="#fff" shape-rendering="auto"/>
<rect x="99.28" y="429.7" width="3.5" height="5.2" fill="#fff" shape-rendering="auto"/>
<rect x="105.17" y="414" width="3.5" height="5.2" fill="#fff" shape-rendering="auto"/>
<rect x="105.17" y="429.7" width="3.5" height="5.2" fill="#fff" shape-rendering="auto"/>
<rect x="33" y="422" width="18" height="5" fill="#fff" />
<rect x="85" y="422" width="20.4" height="5" fill="#fff" />
<polygon points="25.8,422.3 29,424.5 25.8,426.7" fill="#fff"/>
<rect x="50.2" y="413.8" width="35" height="21.6" fill="#000" />
<rect x="51.7" y="415.3" width="32" height="18.8" rx="3" fill="none" stroke="#fff" stroke-width="1" stroke-dasharray="3 2"/>
<rect x="53.7" y="417.3" width="28" height="15.4" rx="2.5" fill="#fff"/>
<text x="55.9" y="429" font-size="14" textLength="23.3" lengthAdjust="spacingAndGlyphs">U26</text>
<polyline points="110,383.5 116.5,387.5 116.5,406 120.5,409.3 116.5,412.5 116.5,433 110,436.4" fill="none" stroke="#000" stroke-width="1" shape-rendering="auto"/>
<rect x="123.6" y="401.2" width="29.6" height="15.6" rx="4" ry="4" fill="#fff" stroke="#000" stroke-width="2.4"/>
<text x="125.3" y="413.1" font-size="14" textLength="26.2" lengthAdjust="spacingAndGlyphs">TAG</text>
<rect x="26" y="446" width="84" height="24" fill="#000" />
<rect x="28.6" y="448" width="3.5" height="5.2" fill="#fff" shape-rendering="auto"/>
<rect x="28.6" y="463" width="3.5" height="5.2" fill="#fff" shape-rendering="auto"/>
<rect x="34.49" y="448" width="3.5" height="5.2" fill="#fff" shape-rendering="auto"/>
<rect x="34.49" y="463" width="3.5" height="5.2" fill="#fff" shape-rendering="auto"/>
<rect x="40.38" y="448" width="3.5" height="5.2" fill="#fff" shape-rendering="auto"/>
<rect x="40.38" y="463" width="3.5" height="5.2" fill="#fff" shape-rendering="auto"/>
<rect x="46.27" y="448" width="3.5" height="5.2" fill="#fff" shape-rendering="auto"/>
<rect x="46.27" y="463" width="3.5" height="5.2" fill="#fff" shape-rendering="auto"/>
<rect x="52.16" y="448" width="3.5" height="5.2" fill="#fff" shape-rendering="auto"/>
<rect x="52.16" y="463" width="3.5" height="5.2" fill="#fff" shape-rendering="auto"/>
<rect x="58.05" y="448" width="3.5" height="5.2" fill="#fff" shape-rendering="auto"/>
<rect x="58.05" y="463" width="3.5" height="5.2" fill="#fff" shape-rendering="auto"/>
<rect x="63.94" y="448" width="3.5" height="5.2" fill="#fff" shape-rendering="auto"/>
<rect x="63.94" y="463" width="3.5" height="5.2" fill="#fff" shape-rendering="auto"/>
<rect x="69.83" y="448" width="3.5" height="5.2" fill="#fff" shape-rendering="auto"/>
<rect x="69.83" y="463" width="3.5" height="5.2" fill="#fff" shape-rendering="auto"/>
<rect x="75.72" y="448" width="3.5" height="5.2" fill="#fff" shape-rendering="auto"/>
<rect x="75.72" y="463" width="3.5" height="5.2" fill="#fff" shape-rendering="auto"/>
<rect x="81.61" y="448" width="3.5" height="5.2" fill="#fff" shape-rendering="auto"/>
<rect x="81.61" y="463" width="3.5" height="5.2" fill="#fff" shape-rendering="auto"/>
<rect x="87.5" y="448" width="3.5" height="5.2" fill="#fff" shape-rendering="auto"/>
<rect x="87.5" y="463" width="3.5" height="5.2" fill="#fff" shape-rendering="auto"/>
<rect x="93.39" y="448" width="3.5" height="5.2" fill="#fff" shape-rendering="auto"/>
<rect x="93.39" y="463" width="3.5" height="5.2" fill="#fff" shape-rendering="auto"/>
<rect x="99.28" y="448" width="3.5" height="5.2" fill="#fff" shape-rendering="auto"/>
<rect x="99.28" y="463" width="3.5" height="5.2" fill="#fff" shape-rendering="auto"/>
<rect x="105.17" y="448" width="3.5" height="5.2" fill="#fff" shape-rendering="auto"/>
<rect x="105.17" y="463" width="3.5" height="5.2" fill="#fff" shape-rendering="auto"/>
<rect x="33" y="456" width="34" height="5" fill="#fff" />
<rect x="73" y="456" width="32" height="5" fill="#fff" />
<polygon points="25.8,456.3 29,458.5 25.8,460.7" fill="#fff"/>
<rect x="26" y="471" width="84" height="24" fill="#000" />
<rect x="28.6" y="473" width="3.5" height="5.2" fill="#fff" shape-rendering="auto"/>
<rect x="28.6" y="488" width="3.5" height="5.2" fill="#fff" shape-rendering="auto"/>
<rect x="34.49" y="473" width="3.5" height="5.2" fill="#fff" shape-rendering="auto"/>
<rect x="34.49" y="488" width="3.5" height="5.2" fill="#fff" shape-rendering="auto"/>
<rect x="40.38" y="473" width="3.5" height="5.2" fill="#fff" shape-rendering="auto"/>
<rect x="40.38" y="488" width="3.5" height="5.2" fill="#fff" shape-rendering="auto"/>
<rect x="46.27" y="473" width="3.5" height="5.2" fill="#fff" shape-rendering="auto"/>
<rect x="46.27" y="488" width="3.5" height="5.2" fill="#fff" shape-rendering="auto"/>
<rect x="52.16" y="473" width="3.5" height="5.2" fill="#fff" shape-rendering="auto"/>
<rect x="52.16" y="488" width="3.5" height="5.2" fill="#fff" shape-rendering="auto"/>
<rect x="58.05" y="473" width="3.5" height="5.2" fill="#fff" shape-rendering="auto"/>
<rect x="58.05" y="488" width="3.5" height="5.2" fill="#fff" shape-rendering="auto"/>
<rect x="63.94" y="473" width="3.5" height="5.2" fill="#fff" shape-rendering="auto"/>
<rect x="63.94" y="488" width="3.5" height="5.2" fill="#fff" shape-rendering="auto"/>
<rect x="69.83" y="473" width="3.5" height="5.2" fill="#fff" shape-rendering="auto"/>
<rect x="69.83" y="488" width="3.5" height="5.2" fill="#fff" shape-rendering="auto"/>
<rect x="75.72" y="473" width="3.5" height="5.2" fill="#fff" shape-rendering="auto"/>
<rect x="75.72" y="488" width="3.5" height="5.2" fill="#fff" shape-rendering="auto"/>
<rect x="81.61" y="473" width="3.5" height="5.2" fill="#fff" shape-rendering="auto"/>
<rect x="81.61" y="488" width="3.5" height="5.2" fill="#fff" shape-rendering="auto"/>
<rect x="87.5" y="473" width="3.5" height="5.2" fill="#fff" shape-rendering="auto"/>
<rect x="87.5" y="488" width="3.5" height="5.2" fill="#fff" shape-rendering="auto"/>
<rect x="93.39" y="473" width="3.5" height="5.2" fill="#fff" shape-rendering="auto"/>
<rect x="93.39" y="488" width="3.5" height="5.2" fill="#fff" shape-rendering="auto"/>
<rect x="99.28" y="473" width="3.5" height="5.2" fill="#fff" shape-rendering="auto"/>
<rect x="99.28" y="488" width="3.5" height="5.2" fill="#fff" shape-rendering="auto"/>
<rect x="105.17" y="473" width="3.5" height="5.2" fill="#fff" shape-rendering="auto"/>
<rect x="105.17" y="488" width="3.5" height="5.2" fill="#fff" shape-rendering="auto"/>
<rect x="33" y="481" width="34" height="5" fill="#fff" />
<rect x="73" y="481" width="32" height="5" fill="#fff" />
<polygon points="25.8,481.3 29,483.5 25.8,485.7" fill="#fff"/>
<rect x="26" y="496" width="84" height="24" fill="#000" />
<rect x="28.6" y="498" width="3.5" height="5.2" fill="#fff" shape-rendering="auto"/>
<rect x="28.6" y="513" width="3.5" height="5.2" fill="#fff" shape-rendering="auto"/>
<rect x="34.49" y="498" width="3.5" height="5.2" fill="#fff" shape-rendering="auto"/>
<rect x="34.49" y="513" width="3.5" height="5.2" fill="#fff" shape-rendering="auto"/>
<rect x="40.38" y="498" width="3.5" height="5.2" fill="#fff" shape-rendering="auto"/>
<rect x="40.38" y="513" width="3.5" height="5.2" fill="#fff" shape-rendering="auto"/>
<rect x="46.27" y="498" width="3.5" height="5.2" fill="#fff" shape-rendering="auto"/>
<rect x="46.27" y="513" width="3.5" height="5.2" fill="#fff" shape-rendering="auto"/>
<rect x="52.16" y="498" width="3.5" height="5.2" fill="#fff" shape-rendering="auto"/>
<rect x="52.16" y="513" width="3.5" height="5.2" fill="#fff" shape-rendering="auto"/>
<rect x="58.05" y="498" width="3.5" height="5.2" fill="#fff" shape-rendering="auto"/>
<rect x="58.05" y="513" width="3.5" height="5.2" fill="#fff" shape-rendering="auto"/>
<rect x="63.94" y="498" width="3.5" height="5.2" fill="#fff" shape-rendering="auto"/>
<rect x="63.94" y="513" width="3.5" height="5.2" fill="#fff" shape-rendering="auto"/>
<rect x="69.83" y="498" width="3.5" height="5.2" fill="#fff" shape-rendering="auto"/>
<rect x="69.83" y="513" width="3.5" height="5.2" fill="#fff" shape-rendering="auto"/>
<rect x="75.72" y="498" width="3.5" height="5.2" fill="#fff" shape-rendering="auto"/>
<rect x="75.72" y="513" width="3.5" height="5.2" fill="#fff" shape-rendering="auto"/>
<rect x="81.61" y="498" width="3.5" height="5.2" fill="#fff" shape-rendering="auto"/>
<rect x="81.61" y="513" width="3.5" height="5.2" fill="#fff" shape-rendering="auto"/>
<rect x="87.5" y="498" width="3.5" height="5.2" fill="#fff" shape-rendering="auto"/>
<rect x="87.5" y="513" width="3.5" height="5.2" fill="#fff" shape-rendering="auto"/>
<rect x="93.39" y="498" width="3.5" height="5.2" fill="#fff" shape-rendering="auto"/>
<rect x="93.39" y="513" width="3.5" height="5.2" fill="#fff" shape-rendering="auto"/>
<rect x="99.28" y="498" width="3.5" height="5.2" fill="#fff" shape-rendering="auto"/>
<rect x="99.28" y="513" width="3.5" height="5.2" fill="#fff" shape-rendering="auto"/>
<rect x="105.17" y="498" width="3.5" height="5.2" fill="#fff" shape-rendering="auto"/>
<rect x="105.17" y="513" width="3.5" height="5.2" fill="#fff" shape-rendering="auto"/>
<rect x="33" y="506" width="34" height="5" fill="#fff" />
<rect x="73" y="506" width="32" height="5" fill="#fff" />
<polygon points="25.8,506.3 29,508.5 25.8,510.7" fill="#fff"/>
<rect x="26" y="521" width="84" height="24" fill="#000" />
<rect x="28.6" y="523" width="3.5" height="5.2" fill="#fff" shape-rendering="auto"/>
<rect x="28.6" y="538" width="3.5" height="5.2" fill="#fff" shape-rendering="auto"/>
<rect x="34.49" y="523" width="3.5" height="5.2" fill="#fff" shape-rendering="auto"/>
<rect x="34.49" y="538" width="3.5" height="5.2" fill="#fff" shape-rendering="auto"/>
<rect x="40.38" y="523" width="3.5" height="5.2" fill="#fff" shape-rendering="auto"/>
<rect x="40.38" y="538" width="3.5" height="5.2" fill="#fff" shape-rendering="auto"/>
<rect x="46.27" y="523" width="3.5" height="5.2" fill="#fff" shape-rendering="auto"/>
<rect x="46.27" y="538" width="3.5" height="5.2" fill="#fff" shape-rendering="auto"/>
<rect x="52.16" y="523" width="3.5" height="5.2" fill="#fff" shape-rendering="auto"/>
<rect x="52.16" y="538" width="3.5" height="5.2" fill="#fff" shape-rendering="auto"/>
<rect x="58.05" y="523" width="3.5" height="5.2" fill="#fff" shape-rendering="auto"/>
<rect x="58.05" y="538" width="3.5" height="5.2" fill="#fff" shape-rendering="auto"/>
<rect x="63.94" y="523" width="3.5" height="5.2" fill="#fff" shape-rendering="auto"/>
<rect x="63.94" y="538" width="3.5" height="5.2" fill="#fff" shape-rendering="auto"/>
<rect x="69.83" y="523" width="3.5" height="5.2" fill="#fff" shape-rendering="auto"/>
<rect x="69.83" y="538" width="3.5" height="5.2" fill="#fff" shape-rendering="auto"/>
<rect x="75.72" y="523" width="3.5" height="5.2" fill="#fff" shape-rendering="auto"/>
<rect x="75.72" y="538" width="3.5" height="5.2" fill="#fff" shape-rendering="auto"/>
<rect x="81.61" y="523" width="3.5" height="5.2" fill="#fff" shape-rendering="auto"/>
<rect x="81.61" y="538" width="3.5" height="5.2" fill="#fff" shape-rendering="auto"/>
<rect x="87.5" y="523" width="3.5" height="5.2" fill="#fff" shape-rendering="auto"/>
<rect x="87.5" y="538" width="3.5" height="5.2" fill="#fff" shape-rendering="auto"/>
<rect x="93.39" y="523" width="3.5" height="5.2" fill="#fff" shape-rendering="auto"/>
<rect x="93.39" y="538" width="3.5" height="5.2" fill="#fff" shape-rendering="auto"/>
<rect x="99.28" y="523" width="3.5" height="5.2" fill="#fff" shape-rendering="auto"/>
<rect x="99.28" y="538" width="3.5" height="5.2" fill="#fff" shape-rendering="auto"/>
<rect x="105.17" y="523" width="3.5" height="5.2" fill="#fff" shape-rendering="auto"/>
<rect x="105.17" y="538" width="3.5" height="5.2" fill="#fff" shape-rendering="auto"/>
<rect x="33" y="531" width="34" height="5" fill="#fff" />
<rect x="73" y="531" width="32" height="5" fill="#fff" />
<polygon points="25.8,531.3 29,533.5 25.8,535.7" fill="#fff"/>
<rect x="40" y="488" width="56" height="15" rx="3" ry="3" fill="#fff"/>
<text x="41.9" y="499" font-size="14" textLength="47.6" lengthAdjust="spacingAndGlyphs">BANK 0</text>
<rect x="27" y="495" width="13" height="1" fill="#fff" />
<rect x="96" y="495" width="13" height="1" fill="#fff" />
<rect x="126" y="472" width="84.6" height="25" fill="#000" />
<rect x="128.6" y="474" width="3.5" height="5.2" fill="#fff" shape-rendering="auto"/>
<rect x="128.6" y="490" width="3.5" height="5.2" fill="#fff" shape-rendering="auto"/>
<rect x="134.49" y="474" width="3.5" height="5.2" fill="#fff" shape-rendering="auto"/>
<rect x="134.49" y="490" width="3.5" height="5.2" fill="#fff" shape-rendering="auto"/>
<rect x="140.38" y="474" width="3.5" height="5.2" fill="#fff" shape-rendering="auto"/>
<rect x="140.38" y="490" width="3.5" height="5.2" fill="#fff" shape-rendering="auto"/>
<rect x="146.27" y="474" width="3.5" height="5.2" fill="#fff" shape-rendering="auto"/>
<rect x="146.27" y="490" width="3.5" height="5.2" fill="#fff" shape-rendering="auto"/>
<rect x="152.16" y="474" width="3.5" height="5.2" fill="#fff" shape-rendering="auto"/>
<rect x="152.16" y="490" width="3.5" height="5.2" fill="#fff" shape-rendering="auto"/>
<rect x="158.05" y="474" width="3.5" height="5.2" fill="#fff" shape-rendering="auto"/>
<rect x="158.05" y="490" width="3.5" height="5.2" fill="#fff" shape-rendering="auto"/>
<rect x="163.94" y="474" width="3.5" height="5.2" fill="#fff" shape-rendering="auto"/>
<rect x="163.94" y="490" width="3.5" height="5.2" fill="#fff" shape-rendering="auto"/>
<rect x="169.83" y="474" width="3.5" height="5.2" fill="#fff" shape-rendering="auto"/>
<rect x="169.83" y="490" width="3.5" height="5.2" fill="#fff" shape-rendering="auto"/>
<rect x="175.72" y="474" width="3.5" height="5.2" fill="#fff" shape-rendering="auto"/>
<rect x="175.72" y="490" width="3.5" height="5.2" fill="#fff" shape-rendering="auto"/>
<rect x="181.61" y="474" width="3.5" height="5.2" fill="#fff" shape-rendering="auto"/>
<rect x="181.61" y="490" width="3.5" height="5.2" fill="#fff" shape-rendering="auto"/>
<rect x="187.5" y="474" width="3.5" height="5.2" fill="#fff" shape-rendering="auto"/>
<rect x="187.5" y="490" width="3.5" height="5.2" fill="#fff" shape-rendering="auto"/>
<rect x="193.39" y="474" width="3.5" height="5.2" fill="#fff" shape-rendering="auto"/>
<rect x="193.39" y="490" width="3.5" height="5.2" fill="#fff" shape-rendering="auto"/>
<rect x="199.28" y="474" width="3.5" height="5.2" fill="#fff" shape-rendering="auto"/>
<rect x="199.28" y="490" width="3.5" height="5.2" fill="#fff" shape-rendering="auto"/>
<rect x="205.17" y="474" width="3.5" height="5.2" fill="#fff" shape-rendering="auto"/>
<rect x="205.17" y="490" width="3.5" height="5.2" fill="#fff" shape-rendering="auto"/>
<rect x="133" y="482" width="34" height="5" fill="#fff" />
<rect x="173" y="482" width="32" height="5" fill="#fff" />
<polygon points="125.8,482.3 129,484.5 125.8,486.7" fill="#fff"/>
<rect x="126" y="497" width="84.6" height="25" fill="#000" />
<rect x="128.6" y="499" width="3.5" height="5.2" fill="#fff" shape-rendering="auto"/>
<rect x="128.6" y="515" width="3.5" height="5.2" fill="#fff" shape-rendering="auto"/>
<rect x="134.49" y="499" width="3.5" height="5.2" fill="#fff" shape-rendering="auto"/>
<rect x="134.49" y="515" width="3.5" height="5.2" fill="#fff" shape-rendering="auto"/>
<rect x="140.38" y="499" width="3.5" height="5.2" fill="#fff" shape-rendering="auto"/>
<rect x="140.38" y="515" width="3.5" height="5.2" fill="#fff" shape-rendering="auto"/>
<rect x="146.27" y="499" width="3.5" height="5.2" fill="#fff" shape-rendering="auto"/>
<rect x="146.27" y="515" width="3.5" height="5.2" fill="#fff" shape-rendering="auto"/>
<rect x="152.16" y="499" width="3.5" height="5.2" fill="#fff" shape-rendering="auto"/>
<rect x="152.16" y="515" width="3.5" height="5.2" fill="#fff" shape-rendering="auto"/>
<rect x="158.05" y="499" width="3.5" height="5.2" fill="#fff" shape-rendering="auto"/>
<rect x="158.05" y="515" width="3.5" height="5.2" fill="#fff" shape-rendering="auto"/>
<rect x="163.94" y="499" width="3.5" height="5.2" fill="#fff" shape-rendering="auto"/>
<rect x="163.94" y="515" width="3.5" height="5.2" fill="#fff" shape-rendering="auto"/>
<rect x="169.83" y="499" width="3.5" height="5.2" fill="#fff" shape-rendering="auto"/>
<rect x="169.83" y="515" width="3.5" height="5.2" fill="#fff" shape-rendering="auto"/>
<rect x="175.72" y="499" width="3.5" height="5.2" fill="#fff" shape-rendering="auto"/>
<rect x="175.72" y="515" width="3.5" height="5.2" fill="#fff" shape-rendering="auto"/>
<rect x="181.61" y="499" width="3.5" height="5.2" fill="#fff" shape-rendering="auto"/>
<rect x="181.61" y="515" width="3.5" height="5.2" fill="#fff" shape-rendering="auto"/>
<rect x="187.5" y="499" width="3.5" height="5.2" fill="#fff" shape-rendering="auto"/>
<rect x="187.5" y="515" width="3.5" height="5.2" fill="#fff" shape-rendering="auto"/>
<rect x="193.39" y="499" width="3.5" height="5.2" fill="#fff" shape-rendering="auto"/>
<rect x="193.39" y="515" width="3.5" height="5.2" fill="#fff" shape-rendering="auto"/>
<rect x="199.28" y="499" width="3.5" height="5.2" fill="#fff" shape-rendering="auto"/>
<rect x="199.28" y="515" width="3.5" height="5.2" fill="#fff" shape-rendering="auto"/>
<rect x="205.17" y="499" width="3.5" height="5.2" fill="#fff" shape-rendering="auto"/>
<rect x="205.17" y="515" width="3.5" height="5.2" fill="#fff" shape-rendering="auto"/>
<rect x="133" y="507" width="34" height="5" fill="#fff" />
<rect x="173" y="507" width="32" height="5" fill="#fff" />
<polygon points="125.8,507.3 129,509.5 125.8,511.7" fill="#fff"/>
<rect x="126" y="522" width="84.6" height="25" fill="#000" />
<rect x="128.6" y="524" width="3.5" height="5.2" fill="#fff" shape-rendering="auto"/>
<rect x="128.6" y="540" width="3.5" height="5.2" fill="#fff" shape-rendering="auto"/>
<rect x="134.49" y="524" width="3.5" height="5.2" fill="#fff" shape-rendering="auto"/>
<rect x="134.49" y="540" width="3.5" height="5.2" fill="#fff" shape-rendering="auto"/>
<rect x="140.38" y="524" width="3.5" height="5.2" fill="#fff" shape-rendering="auto"/>
<rect x="140.38" y="540" width="3.5" height="5.2" fill="#fff" shape-rendering="auto"/>
<rect x="146.27" y="524" width="3.5" height="5.2" fill="#fff" shape-rendering="auto"/>
<rect x="146.27" y="540" width="3.5" height="5.2" fill="#fff" shape-rendering="auto"/>
<rect x="152.16" y="524" width="3.5" height="5.2" fill="#fff" shape-rendering="auto"/>
<rect x="152.16" y="540" width="3.5" height="5.2" fill="#fff" shape-rendering="auto"/>
<rect x="158.05" y="524" width="3.5" height="5.2" fill="#fff" shape-rendering="auto"/>
<rect x="158.05" y="540" width="3.5" height="5.2" fill="#fff" shape-rendering="auto"/>
<rect x="163.94" y="524" width="3.5" height="5.2" fill="#fff" shape-rendering="auto"/>
<rect x="163.94" y="540" width="3.5" height="5.2" fill="#fff" shape-rendering="auto"/>
<rect x="169.83" y="524" width="3.5" height="5.2" fill="#fff" shape-rendering="auto"/>
<rect x="169.83" y="540" width="3.5" height="5.2" fill="#fff" shape-rendering="auto"/>
<rect x="175.72" y="524" width="3.5" height="5.2" fill="#fff" shape-rendering="auto"/>
<rect x="175.72" y="540" width="3.5" height="5.2" fill="#fff" shape-rendering="auto"/>
<rect x="181.61" y="524" width="3.5" height="5.2" fill="#fff" shape-rendering="auto"/>
<rect x="181.61" y="540" width="3.5" height="5.2" fill="#fff" shape-rendering="auto"/>
<rect x="187.5" y="524" width="3.5" height="5.2" fill="#fff" shape-rendering="auto"/>
<rect x="187.5" y="540" width="3.5" height="5.2" fill="#fff" shape-rendering="auto"/>
<rect x="193.39" y="524" width="3.5" height="5.2" fill="#fff" shape-rendering="auto"/>
<rect x="193.39" y="540" width="3.5" height="5.2" fill="#fff" shape-rendering="auto"/>
<rect x="199.28" y="524" width="3.5" height="5.2" fill="#fff" shape-rendering="auto"/>
<rect x="199.28" y="540" width="3.5" height="5.2" fill="#fff" shape-rendering="auto"/>
<rect x="205.17" y="524" width="3.5" height="5.2" fill="#fff" shape-rendering="auto"/>
<rect x="205.17" y="540" width="3.5" height="5.2" fill="#fff" shape-rendering="auto"/>
<rect x="133" y="532" width="34" height="5" fill="#fff" />
<rect x="173" y="532" width="32" height="5" fill="#fff" />
<polygon points="125.8,532.3 129,534.5 125.8,536.7" fill="#fff"/>
<rect x="126" y="547" width="84.6" height="25" fill="#000" />
<rect x="128.6" y="549" width="3.5" height="5.2" fill="#fff" shape-rendering="auto"/>
<rect x="128.6" y="565" width="3.5" height="5.2" fill="#fff" shape-rendering="auto"/>
<rect x="134.49" y="549" width="3.5" height="5.2" fill="#fff" shape-rendering="auto"/>
<rect x="134.49" y="565" width="3.5" height="5.2" fill="#fff" shape-rendering="auto"/>
<rect x="140.38" y="549" width="3.5" height="5.2" fill="#fff" shape-rendering="auto"/>
<rect x="140.38" y="565" width="3.5" height="5.2" fill="#fff" shape-rendering="auto"/>
<rect x="146.27" y="549" width="3.5" height="5.2" fill="#fff" shape-rendering="auto"/>
<rect x="146.27" y="565" width="3.5" height="5.2" fill="#fff" shape-rendering="auto"/>
<rect x="152.16" y="549" width="3.5" height="5.2" fill="#fff" shape-rendering="auto"/>
<rect x="152.16" y="565" width="3.5" height="5.2" fill="#fff" shape-rendering="auto"/>
<rect x="158.05" y="549" width="3.5" height="5.2" fill="#fff" shape-rendering="auto"/>
<rect x="158.05" y="565" width="3.5" height="5.2" fill="#fff" shape-rendering="auto"/>
<rect x="163.94" y="549" width="3.5" height="5.2" fill="#fff" shape-rendering="auto"/>
<rect x="163.94" y="565" width="3.5" height="5.2" fill="#fff" shape-rendering="auto"/>
<rect x="169.83" y="549" width="3.5" height="5.2" fill="#fff" shape-rendering="auto"/>
<rect x="169.83" y="565" width="3.5" height="5.2" fill="#fff" shape-rendering="auto"/>
<rect x="175.72" y="549" width="3.5" height="5.2" fill="#fff" shape-rendering="auto"/>
<rect x="175.72" y="565" width="3.5" height="5.2" fill="#fff" shape-rendering="auto"/>
<rect x="181.61" y="549" width="3.5" height="5.2" fill="#fff" shape-rendering="auto"/>
<rect x="181.61" y="565" width="3.5" height="5.2" fill="#fff" shape-rendering="auto"/>
<rect x="187.5" y="549" width="3.5" height="5.2" fill="#fff" shape-rendering="auto"/>
<rect x="187.5" y="565" width="3.5" height="5.2" fill="#fff" shape-rendering="auto"/>
<rect x="193.39" y="549" width="3.5" height="5.2" fill="#fff" shape-rendering="auto"/>
<rect x="193.39" y="565" width="3.5" height="5.2" fill="#fff" shape-rendering="auto"/>
<rect x="199.28" y="549" width="3.5" height="5.2" fill="#fff" shape-rendering="auto"/>
<rect x="199.28" y="565" width="3.5" height="5.2" fill="#fff" shape-rendering="auto"/>
<rect x="205.17" y="549" width="3.5" height="5.2" fill="#fff" shape-rendering="auto"/>
<rect x="205.17" y="565" width="3.5" height="5.2" fill="#fff" shape-rendering="auto"/>
<rect x="133" y="557" width="34" height="5" fill="#fff" />
<rect x="173" y="557" width="32" height="5" fill="#fff" />
<polygon points="125.8,557.3 129,559.5 125.8,561.7" fill="#fff"/>
<rect x="140" y="514.3" width="55.3" height="14.7" rx="1" ry="1" fill="#fff"/>
<text x="142" y="524.65" font-size="14" textLength="48.5" lengthAdjust="spacingAndGlyphs">BANK 1</text>
<polyline points="110,446.5 211.7,446.5 217.5,452.3 217.5,502.5 220.8,505.7 217.5,509 217.5,565 211,571.5" fill="none" stroke="#000" stroke-width="1" shape-rendering="auto"/>
<rect x="222.2" y="498.2" width="48.6" height="15.2" rx="4" ry="4" fill="#fff" stroke="#000" stroke-width="2.4"/>
<text x="224.3" y="509.9" font-size="14" textLength="45.2" lengthAdjust="spacingAndGlyphs">CACHE</text>
<rect x="241" y="424" width="7" height="18.8" fill="#000" />
<rect x="242" y="428.933" width="5" height="2" fill="#fff" />
<rect x="242" y="434.867" width="5" height="1.2" fill="#fff" />
<rect x="242" y="436.8" width="5" height="5" fill="#fff" />
<rect x="243" y="437.8" width="3" height="2.8" fill="#000" />
<rect x="243.7" y="438.5" width="1.6" height="1.4" fill="#fff" shape-rendering="auto"/>
<polygon points="270,431.5 254,434.7 270,437.9" fill="#fff" stroke="#000" stroke-width="1.6" stroke-linejoin="miter"/>
<polygon points="263.92,432.716 254,434.7 263.92,436.684" fill="#000" stroke="#000" stroke-width="1"/>
<rect x="270.1" y="427.1" width="39.8" height="15.4" rx="2.6" ry="2.6" fill="#fff" stroke="#000" stroke-width="2.2"/>
<rect x="268.8" y="432.3" width="2.6" height="4.8" fill="#fff" />
<text x="272.3" y="438.9" font-size="14" textLength="32.6" lengthAdjust="spacingAndGlyphs">JP8A</text>
<rect x="282" y="557.4" width="19" height="6.4" fill="#000" />
<rect x="296.3" y="559.4" width="1.7" height="2" fill="#fff" />
<rect x="288.4" y="558.7" width="1.1" height="3.8" fill="#fff" shape-rendering="auto"/>
<rect x="294.4" y="558.7" width="1.1" height="3.8" fill="#fff" shape-rendering="auto"/>
<rect x="299.4" y="558.7" width="1.1" height="3.8" fill="#fff" shape-rendering="auto"/>
<polygon points="313.6,549.7 306.5,560.3 317.3,552.9" fill="#fff" stroke="#000" stroke-width="1.6"/>
<polygon points="309.34,556.06 306.5,560.3 310.82,557.34" fill="#000" stroke="#000" stroke-width="1.2"/>
<rect x="313.9" y="537.4" width="38" height="15.2" rx="2.6" ry="2.6" fill="#fff" stroke="#000" stroke-width="2.2"/>
<polygon points="314.5,549.7 317.3,552 318.3,549.7 316.8,549.7" fill="#fff"/>
<text x="316.3" y="549.1" font-size="14" textLength="31.2" lengthAdjust="spacingAndGlyphs">JP8C</text>
<rect x="402" y="556" width="6.8" height="20" fill="#000" />
<rect x="403" y="561.333" width="4.8" height="2" fill="#fff" />
<rect x="403" y="567.667" width="4.8" height="1.2" fill="#fff" />
<rect x="403" y="570" width="4.8" height="5" fill="#fff" />
<rect x="404" y="571" width="2.8" height="2.8" fill="#000" />
<rect x="404.7" y="571.7" width="1.4" height="1.4" fill="#fff" shape-rendering="auto"/>
<rect x="419.3" y="556" width="6.7" height="20" fill="#000" />
<rect x="420.3" y="561.333" width="4.7" height="2" fill="#fff" />
<rect x="420.3" y="567.667" width="4.7" height="1.2" fill="#fff" />
<rect x="420.3" y="570" width="4.7" height="5" fill="#fff" />
<rect x="421.3" y="571" width="2.7" height="2.8" fill="#000" />
<rect x="422" y="571.7" width="1.3" height="1.4" fill="#fff" shape-rendering="auto"/>
<polygon points="402,536 405.3,555 408.8,536" fill="#fff" stroke="#000" stroke-width="1.6" stroke-linejoin="miter"/>
<polygon points="403.254,543.22 405.3,555 407.47,543.22" fill="#000" stroke="#000" stroke-width="1"/>
<rect x="387.1" y="520.4" width="40.6" height="15.5" rx="2.6" ry="2.6" fill="#fff" stroke="#000" stroke-width="2.2"/>
<rect x="402.8" y="534.6" width="5.2" height="2.6" fill="#fff" />
<text x="391.3" y="532.25" font-size="14" textLength="31.9" lengthAdjust="spacingAndGlyphs">JP8D</text>
<polygon points="444.3,559.6 428,562.8 444.3,566" fill="#fff" stroke="#000" stroke-width="1.6" stroke-linejoin="miter"/>
<polygon points="438.106,560.816 428,562.8 438.106,564.784" fill="#000" stroke="#000" stroke-width="1"/>
<rect x="444.4" y="555.1" width="39.3" height="15.8" rx="2.6" ry="2.6" fill="#fff" stroke="#000" stroke-width="2.2"/>
<rect x="443.1" y="560.4" width="2.6" height="4.8" fill="#fff" />
<text x="446.6" y="567.1" font-size="14" textLength="31.9" lengthAdjust="spacingAndGlyphs">JP8B</text>
<rect x="450.5" y="375.5" width="225" height="18" fill="#fff" stroke="#000" stroke-width="1"/>
<rect x="457" y="392" width="211" height="1" fill="#000" />
<rect x="449" y="382" width="1" height="8" fill="#000" />
<rect x="449" y="382" width="8" height="1" fill="#000" />
<rect x="449" y="389" width="8" height="1" fill="#000" />
<rect x="450" y="383" width="1" height="6" fill="#fff" />
<rect x="456" y="375" width="1" height="18.5" fill="#000" />
<rect x="458" y="376" width="3" height="16" fill="#000" />
<rect x="460.5" y="381.5" width="9" height="9" fill="#fff" stroke="#000" stroke-width="1"/>
<rect x="460.5" y="376.5" width="7" height="7" fill="#fff" stroke="#000" stroke-width="1"/>
<rect x="460" y="376" width="8" height="1.4" fill="#000" />
<rect x="461" y="380" width="2" height="2" fill="#000" />
<rect x="463" y="380" width="1" height="4" fill="#000" />
<rect x="667" y="382" width="9" height="1" fill="#000" />
<rect x="667" y="389" width="9" height="1" fill="#000" />
<rect x="667" y="375" width="1" height="18.5" fill="#000" />
<rect x="664" y="376" width="2" height="16" fill="#000" />
<rect x="654.5" y="381.5" width="9" height="9" fill="#fff" stroke="#000" stroke-width="1"/>
<rect x="656.5" y="376.5" width="7.5" height="7" fill="#fff" stroke="#000" stroke-width="1"/>
<rect x="656" y="376" width="8" height="1.4" fill="#000" />
<rect x="661" y="380" width="3" height="2" fill="#000" />
<rect x="661" y="380" width="1" height="4" fill="#000" />
<rect x="474" y="383.5" width="176" height="7.7" fill="#000" />
<rect x="475" y="378" width="174" height="6" fill="#000" />
<rect x="478" y="384" width="4" height="6" fill="#fff" shape-rendering="auto"/>
<rect x="479.2" y="379" width="1.2" height="3.8" fill="#fff" shape-rendering="auto"/>
<rect x="483.87" y="384" width="4" height="6" fill="#fff" shape-rendering="auto"/>
<rect x="485.07" y="379" width="1.2" height="3.8" fill="#fff" shape-rendering="auto"/>
<rect x="489.74" y="384" width="4" height="6" fill="#fff" shape-rendering="auto"/>
<rect x="490.94" y="379" width="1.2" height="3.8" fill="#fff" shape-rendering="auto"/>
<rect x="495.61" y="384" width="4" height="6" fill="#fff" shape-rendering="auto"/>
<rect x="496.81" y="379" width="1.2" height="3.8" fill="#fff" shape-rendering="auto"/>
<rect x="501.48" y="384" width="4" height="6" fill="#fff" shape-rendering="auto"/>
<rect x="502.68" y="379" width="1.2" height="3.8" fill="#fff" shape-rendering="auto"/>
<rect x="507.35" y="384" width="4" height="6" fill="#fff" shape-rendering="auto"/>
<rect x="508.55" y="379" width="1.2" height="3.8" fill="#fff" shape-rendering="auto"/>
<rect x="513.22" y="384" width="4" height="6" fill="#fff" shape-rendering="auto"/>
<rect x="514.42" y="379" width="1.2" height="3.8" fill="#fff" shape-rendering="auto"/>
<rect x="519.09" y="384" width="4" height="6" fill="#fff" shape-rendering="auto"/>
<rect x="520.29" y="379" width="1.2" height="3.8" fill="#fff" shape-rendering="auto"/>
<rect x="524.96" y="384" width="4" height="6" fill="#fff" shape-rendering="auto"/>
<rect x="526.16" y="379" width="1.2" height="3.8" fill="#fff" shape-rendering="auto"/>
<rect x="530.83" y="384" width="4" height="6" fill="#fff" shape-rendering="auto"/>
<rect x="532.03" y="379" width="1.2" height="3.8" fill="#fff" shape-rendering="auto"/>
<rect x="536.7" y="384" width="4" height="6" fill="#fff" shape-rendering="auto"/>
<rect x="537.9" y="379" width="1.2" height="3.8" fill="#fff" shape-rendering="auto"/>
<rect x="542.57" y="384" width="4" height="6" fill="#fff" shape-rendering="auto"/>
<rect x="543.77" y="379" width="1.2" height="3.8" fill="#fff" shape-rendering="auto"/>
<rect x="548.44" y="384" width="4" height="6" fill="#fff" shape-rendering="auto"/>
<rect x="549.64" y="379" width="1.2" height="3.8" fill="#fff" shape-rendering="auto"/>
<rect x="554.31" y="384" width="4" height="6" fill="#fff" shape-rendering="auto"/>
<rect x="555.51" y="379" width="1.2" height="3.8" fill="#fff" shape-rendering="auto"/>
<rect x="560.18" y="384" width="4" height="6" fill="#fff" shape-rendering="auto"/>
<rect x="561.38" y="379" width="1.2" height="3.8" fill="#fff" shape-rendering="auto"/>
<rect x="566.05" y="384" width="4" height="6" fill="#fff" shape-rendering="auto"/>
<rect x="567.25" y="379" width="1.2" height="3.8" fill="#fff" shape-rendering="auto"/>
<rect x="571.92" y="384" width="4" height="6" fill="#fff" shape-rendering="auto"/>
<rect x="573.12" y="379" width="1.2" height="3.8" fill="#fff" shape-rendering="auto"/>
<rect x="577.79" y="384" width="4" height="6" fill="#fff" shape-rendering="auto"/>
<rect x="578.99" y="379" width="1.2" height="3.8" fill="#fff" shape-rendering="auto"/>
<rect x="583.66" y="384" width="4" height="6" fill="#fff" shape-rendering="auto"/>
<rect x="584.86" y="379" width="1.2" height="3.8" fill="#fff" shape-rendering="auto"/>
<rect x="589.53" y="384" width="4" height="6" fill="#fff" shape-rendering="auto"/>
<rect x="590.73" y="379" width="1.2" height="3.8" fill="#fff" shape-rendering="auto"/>
<rect x="595.4" y="384" width="4" height="6" fill="#fff" shape-rendering="auto"/>
<rect x="596.6" y="379" width="1.2" height="3.8" fill="#fff" shape-rendering="auto"/>
<rect x="601.27" y="384" width="4" height="6" fill="#fff" shape-rendering="auto"/>
<rect x="602.47" y="379" width="1.2" height="3.8" fill="#fff" shape-rendering="auto"/>
<rect x="607.14" y="384" width="4" height="6" fill="#fff" shape-rendering="auto"/>
<rect x="608.34" y="379" width="1.2" height="3.8" fill="#fff" shape-rendering="auto"/>
<rect x="613.01" y="384" width="4" height="6" fill="#fff" shape-rendering="auto"/>
<rect x="614.21" y="379" width="1.2" height="3.8" fill="#fff" shape-rendering="auto"/>
<rect x="618.88" y="384" width="4" height="6" fill="#fff" shape-rendering="auto"/>
<rect x="620.08" y="379" width="1.2" height="3.8" fill="#fff" shape-rendering="auto"/>
<rect x="624.75" y="384" width="4" height="6" fill="#fff" shape-rendering="auto"/>
<rect x="625.95" y="379" width="1.2" height="3.8" fill="#fff" shape-rendering="auto"/>
<rect x="630.62" y="384" width="4" height="6" fill="#fff" shape-rendering="auto"/>
<rect x="631.82" y="379" width="1.2" height="3.8" fill="#fff" shape-rendering="auto"/>
<rect x="636.49" y="384" width="4" height="6" fill="#fff" shape-rendering="auto"/>
<rect x="637.69" y="379" width="1.2" height="3.8" fill="#fff" shape-rendering="auto"/>
<rect x="642.36" y="384" width="4" height="6" fill="#fff" shape-rendering="auto"/>
<rect x="643.56" y="379" width="1.2" height="3.8" fill="#fff" shape-rendering="auto"/>
<rect x="475" y="384" width="1" height="6" fill="#fff" />
<rect x="450.5" y="395.5" width="225" height="18" fill="#fff" stroke="#000" stroke-width="1"/>
<rect x="457" y="412" width="211" height="1" fill="#000" />
<rect x="449" y="402" width="1" height="8" fill="#000" />
<rect x="449" y="402" width="8" height="1" fill="#000" />
<rect x="449" y="409" width="8" height="1" fill="#000" />
<rect x="450" y="403" width="1" height="6" fill="#fff" />
<rect x="456" y="395" width="1" height="18.5" fill="#000" />
<rect x="458" y="396" width="3" height="16" fill="#000" />
<rect x="460.5" y="401.5" width="9" height="9" fill="#fff" stroke="#000" stroke-width="1"/>
<rect x="460.5" y="396.5" width="7" height="7" fill="#fff" stroke="#000" stroke-width="1"/>
<rect x="460" y="396" width="8" height="1.4" fill="#000" />
<rect x="461" y="400" width="2" height="2" fill="#000" />
<rect x="463" y="400" width="1" height="4" fill="#000" />
<rect x="667" y="402" width="9" height="1" fill="#000" />
<rect x="667" y="409" width="9" height="1" fill="#000" />
<rect x="667" y="395" width="1" height="18.5" fill="#000" />
<rect x="664" y="396" width="2" height="16" fill="#000" />
<rect x="654.5" y="401.5" width="9" height="9" fill="#fff" stroke="#000" stroke-width="1"/>
<rect x="656.5" y="396.5" width="7.5" height="7" fill="#fff" stroke="#000" stroke-width="1"/>
<rect x="656" y="396" width="8" height="1.4" fill="#000" />
<rect x="661" y="400" width="3" height="2" fill="#000" />
<rect x="661" y="400" width="1" height="4" fill="#000" />
<rect x="474" y="403.5" width="176" height="7.7" fill="#000" />
<rect x="475" y="398" width="174" height="6" fill="#000" />
<rect x="478" y="404" width="4" height="6" fill="#fff" shape-rendering="auto"/>
<rect x="479.2" y="399" width="1.2" height="3.8" fill="#fff" shape-rendering="auto"/>
<rect x="483.87" y="404" width="4" height="6" fill="#fff" shape-rendering="auto"/>
<rect x="485.07" y="399" width="1.2" height="3.8" fill="#fff" shape-rendering="auto"/>
<rect x="489.74" y="404" width="4" height="6" fill="#fff" shape-rendering="auto"/>
<rect x="490.94" y="399" width="1.2" height="3.8" fill="#fff" shape-rendering="auto"/>
<rect x="495.61" y="404" width="4" height="6" fill="#fff" shape-rendering="auto"/>
<rect x="496.81" y="399" width="1.2" height="3.8" fill="#fff" shape-rendering="auto"/>
<rect x="501.48" y="404" width="4" height="6" fill="#fff" shape-rendering="auto"/>
<rect x="502.68" y="399" width="1.2" height="3.8" fill="#fff" shape-rendering="auto"/>
<rect x="507.35" y="404" width="4" height="6" fill="#fff" shape-rendering="auto"/>
<rect x="508.55" y="399" width="1.2" height="3.8" fill="#fff" shape-rendering="auto"/>
<rect x="513.22" y="404" width="4" height="6" fill="#fff" shape-rendering="auto"/>
<rect x="514.42" y="399" width="1.2" height="3.8" fill="#fff" shape-rendering="auto"/>
<rect x="519.09" y="404" width="4" height="6" fill="#fff" shape-rendering="auto"/>
<rect x="520.29" y="399" width="1.2" height="3.8" fill="#fff" shape-rendering="auto"/>
<rect x="524.96" y="404" width="4" height="6" fill="#fff" shape-rendering="auto"/>
<rect x="526.16" y="399" width="1.2" height="3.8" fill="#fff" shape-rendering="auto"/>
<rect x="530.83" y="404" width="4" height="6" fill="#fff" shape-rendering="auto"/>
<rect x="532.03" y="399" width="1.2" height="3.8" fill="#fff" shape-rendering="auto"/>
<rect x="536.7" y="404" width="4" height="6" fill="#fff" shape-rendering="auto"/>
<rect x="537.9" y="399" width="1.2" height="3.8" fill="#fff" shape-rendering="auto"/>
<rect x="542.57" y="404" width="4" height="6" fill="#fff" shape-rendering="auto"/>
<rect x="543.77" y="399" width="1.2" height="3.8" fill="#fff" shape-rendering="auto"/>
<rect x="548.44" y="404" width="4" height="6" fill="#fff" shape-rendering="auto"/>
<rect x="549.64" y="399" width="1.2" height="3.8" fill="#fff" shape-rendering="auto"/>
<rect x="554.31" y="404" width="4" height="6" fill="#fff" shape-rendering="auto"/>
<rect x="555.51" y="399" width="1.2" height="3.8" fill="#fff" shape-rendering="auto"/>
<rect x="560.18" y="404" width="4" height="6" fill="#fff" shape-rendering="auto"/>
<rect x="561.38" y="399" width="1.2" height="3.8" fill="#fff" shape-rendering="auto"/>
<rect x="566.05" y="404" width="4" height="6" fill="#fff" shape-rendering="auto"/>
<rect x="567.25" y="399" width="1.2" height="3.8" fill="#fff" shape-rendering="auto"/>
<rect x="571.92" y="404" width="4" height="6" fill="#fff" shape-rendering="auto"/>
<rect x="573.12" y="399" width="1.2" height="3.8" fill="#fff" shape-rendering="auto"/>
<rect x="577.79" y="404" width="4" height="6" fill="#fff" shape-rendering="auto"/>
<rect x="578.99" y="399" width="1.2" height="3.8" fill="#fff" shape-rendering="auto"/>
<rect x="583.66" y="404" width="4" height="6" fill="#fff" shape-rendering="auto"/>
<rect x="584.86" y="399" width="1.2" height="3.8" fill="#fff" shape-rendering="auto"/>
<rect x="589.53" y="404" width="4" height="6" fill="#fff" shape-rendering="auto"/>
<rect x="590.73" y="399" width="1.2" height="3.8" fill="#fff" shape-rendering="auto"/>
<rect x="595.4" y="404" width="4" height="6" fill="#fff" shape-rendering="auto"/>
<rect x="596.6" y="399" width="1.2" height="3.8" fill="#fff" shape-rendering="auto"/>
<rect x="601.27" y="404" width="4" height="6" fill="#fff" shape-rendering="auto"/>
<rect x="602.47" y="399" width="1.2" height="3.8" fill="#fff" shape-rendering="auto"/>
<rect x="607.14" y="404" width="4" height="6" fill="#fff" shape-rendering="auto"/>
<rect x="608.34" y="399" width="1.2" height="3.8" fill="#fff" shape-rendering="auto"/>
<rect x="613.01" y="404" width="4" height="6" fill="#fff" shape-rendering="auto"/>
<rect x="614.21" y="399" width="1.2" height="3.8" fill="#fff" shape-rendering="auto"/>
<rect x="618.88" y="404" width="4" height="6" fill="#fff" shape-rendering="auto"/>
<rect x="620.08" y="399" width="1.2" height="3.8" fill="#fff" shape-rendering="auto"/>
<rect x="624.75" y="404" width="4" height="6" fill="#fff" shape-rendering="auto"/>
<rect x="625.95" y="399" width="1.2" height="3.8" fill="#fff" shape-rendering="auto"/>
<rect x="630.62" y="404" width="4" height="6" fill="#fff" shape-rendering="auto"/>
<rect x="631.82" y="399" width="1.2" height="3.8" fill="#fff" shape-rendering="auto"/>
<rect x="636.49" y="404" width="4" height="6" fill="#fff" shape-rendering="auto"/>
<rect x="637.69" y="399" width="1.2" height="3.8" fill="#fff" shape-rendering="auto"/>
<rect x="642.36" y="404" width="4" height="6" fill="#fff" shape-rendering="auto"/>
<rect x="643.56" y="399" width="1.2" height="3.8" fill="#fff" shape-rendering="auto"/>
<rect x="475" y="404" width="1" height="6" fill="#fff" />
<rect x="450.5" y="416.5" width="225" height="18" fill="#fff" stroke="#000" stroke-width="1"/>
<rect x="457" y="433" width="211" height="1" fill="#000" />
<rect x="449" y="423" width="1" height="8" fill="#000" />
<rect x="449" y="423" width="8" height="1" fill="#000" />
<rect x="449" y="430" width="8" height="1" fill="#000" />
<rect x="450" y="424" width="1" height="6" fill="#fff" />
<rect x="456" y="416" width="1" height="18.5" fill="#000" />
<rect x="458" y="417" width="3" height="16" fill="#000" />
<rect x="460.5" y="422.5" width="9" height="9" fill="#fff" stroke="#000" stroke-width="1"/>
<rect x="460.5" y="417.5" width="7" height="7" fill="#fff" stroke="#000" stroke-width="1"/>
<rect x="460" y="417" width="8" height="1.4" fill="#000" />
<rect x="461" y="421" width="2" height="2" fill="#000" />
<rect x="463" y="421" width="1" height="4" fill="#000" />
<rect x="667" y="423" width="9" height="1" fill="#000" />
<rect x="667" y="430" width="9" height="1" fill="#000" />
<rect x="667" y="416" width="1" height="18.5" fill="#000" />
<rect x="664" y="417" width="2" height="16" fill="#000" />
<rect x="654.5" y="422.5" width="9" height="9" fill="#fff" stroke="#000" stroke-width="1"/>
<rect x="656.5" y="417.5" width="7.5" height="7" fill="#fff" stroke="#000" stroke-width="1"/>
<rect x="656" y="417" width="8" height="1.4" fill="#000" />
<rect x="661" y="421" width="3" height="2" fill="#000" />
<rect x="661" y="421" width="1" height="4" fill="#000" />
<rect x="474" y="424.5" width="176" height="7.7" fill="#000" />
<rect x="475" y="419" width="174" height="6" fill="#000" />
<rect x="478" y="425" width="4" height="6" fill="#fff" shape-rendering="auto"/>
<rect x="479.2" y="420" width="1.2" height="3.8" fill="#fff" shape-rendering="auto"/>
<rect x="483.87" y="425" width="4" height="6" fill="#fff" shape-rendering="auto"/>
<rect x="485.07" y="420" width="1.2" height="3.8" fill="#fff" shape-rendering="auto"/>
<rect x="489.74" y="425" width="4" height="6" fill="#fff" shape-rendering="auto"/>
<rect x="490.94" y="420" width="1.2" height="3.8" fill="#fff" shape-rendering="auto"/>
<rect x="495.61" y="425" width="4" height="6" fill="#fff" shape-rendering="auto"/>
<rect x="496.81" y="420" width="1.2" height="3.8" fill="#fff" shape-rendering="auto"/>
<rect x="501.48" y="425" width="4" height="6" fill="#fff" shape-rendering="auto"/>
<rect x="502.68" y="420" width="1.2" height="3.8" fill="#fff" shape-rendering="auto"/>
<rect x="507.35" y="425" width="4" height="6" fill="#fff" shape-rendering="auto"/>
<rect x="508.55" y="420" width="1.2" height="3.8" fill="#fff" shape-rendering="auto"/>
<rect x="513.22" y="425" width="4" height="6" fill="#fff" shape-rendering="auto"/>
<rect x="514.42" y="420" width="1.2" height="3.8" fill="#fff" shape-rendering="auto"/>
<rect x="519.09" y="425" width="4" height="6" fill="#fff" shape-rendering="auto"/>
<rect x="520.29" y="420" width="1.2" height="3.8" fill="#fff" shape-rendering="auto"/>
<rect x="524.96" y="425" width="4" height="6" fill="#fff" shape-rendering="auto"/>
<rect x="526.16" y="420" width="1.2" height="3.8" fill="#fff" shape-rendering="auto"/>
<rect x="530.83" y="425" width="4" height="6" fill="#fff" shape-rendering="auto"/>
<rect x="532.03" y="420" width="1.2" height="3.8" fill="#fff" shape-rendering="auto"/>
<rect x="536.7" y="425" width="4" height="6" fill="#fff" shape-rendering="auto"/>
<rect x="537.9" y="420" width="1.2" height="3.8" fill="#fff" shape-rendering="auto"/>
<rect x="542.57" y="425" width="4" height="6" fill="#fff" shape-rendering="auto"/>
<rect x="543.77" y="420" width="1.2" height="3.8" fill="#fff" shape-rendering="auto"/>
<rect x="548.44" y="425" width="4" height="6" fill="#fff" shape-rendering="auto"/>
<rect x="549.64" y="420" width="1.2" height="3.8" fill="#fff" shape-rendering="auto"/>
<rect x="554.31" y="425" width="4" height="6" fill="#fff" shape-rendering="auto"/>
<rect x="555.51" y="420" width="1.2" height="3.8" fill="#fff" shape-rendering="auto"/>
<rect x="560.18" y="425" width="4" height="6" fill="#fff" shape-rendering="auto"/>
<rect x="561.38" y="420" width="1.2" height="3.8" fill="#fff" shape-rendering="auto"/>
<rect x="566.05" y="425" width="4" height="6" fill="#fff" shape-rendering="auto"/>
<rect x="567.25" y="420" width="1.2" height="3.8" fill="#fff" shape-rendering="auto"/>
<rect x="571.92" y="425" width="4" height="6" fill="#fff" shape-rendering="auto"/>
<rect x="573.12" y="420" width="1.2" height="3.8" fill="#fff" shape-rendering="auto"/>
<rect x="577.79" y="425" width="4" height="6" fill="#fff" shape-rendering="auto"/>
<rect x="578.99" y="420" width="1.2" height="3.8" fill="#fff" shape-rendering="auto"/>
<rect x="583.66" y="425" width="4" height="6" fill="#fff" shape-rendering="auto"/>
<rect x="584.86" y="420" width="1.2" height="3.8" fill="#fff" shape-rendering="auto"/>
<rect x="589.53" y="425" width="4" height="6" fill="#fff" shape-rendering="auto"/>
<rect x="590.73" y="420" width="1.2" height="3.8" fill="#fff" shape-rendering="auto"/>
<rect x="595.4" y="425" width="4" height="6" fill="#fff" shape-rendering="auto"/>
<rect x="596.6" y="420" width="1.2" height="3.8" fill="#fff" shape-rendering="auto"/>
<rect x="601.27" y="425" width="4" height="6" fill="#fff" shape-rendering="auto"/>
<rect x="602.47" y="420" width="1.2" height="3.8" fill="#fff" shape-rendering="auto"/>
<rect x="607.14" y="425" width="4" height="6" fill="#fff" shape-rendering="auto"/>
<rect x="608.34" y="420" width="1.2" height="3.8" fill="#fff" shape-rendering="auto"/>
<rect x="613.01" y="425" width="4" height="6" fill="#fff" shape-rendering="auto"/>
<rect x="614.21" y="420" width="1.2" height="3.8" fill="#fff" shape-rendering="auto"/>
<rect x="618.88" y="425" width="4" height="6" fill="#fff" shape-rendering="auto"/>
<rect x="620.08" y="420" width="1.2" height="3.8" fill="#fff" shape-rendering="auto"/>
<rect x="624.75" y="425" width="4" height="6" fill="#fff" shape-rendering="auto"/>
<rect x="625.95" y="420" width="1.2" height="3.8" fill="#fff" shape-rendering="auto"/>
<rect x="630.62" y="425" width="4" height="6" fill="#fff" shape-rendering="auto"/>
<rect x="631.82" y="420" width="1.2" height="3.8" fill="#fff" shape-rendering="auto"/>
<rect x="636.49" y="425" width="4" height="6" fill="#fff" shape-rendering="auto"/>
<rect x="637.69" y="420" width="1.2" height="3.8" fill="#fff" shape-rendering="auto"/>
<rect x="642.36" y="425" width="4" height="6" fill="#fff" shape-rendering="auto"/>
<rect x="643.56" y="420" width="1.2" height="3.8" fill="#fff" shape-rendering="auto"/>
<rect x="475" y="425" width="1" height="6" fill="#fff" />
<rect x="450.5" y="436.5" width="225" height="18" fill="#fff" stroke="#000" stroke-width="1"/>
<rect x="457" y="453" width="211" height="1" fill="#000" />
<rect x="449" y="443" width="1" height="8" fill="#000" />
<rect x="449" y="443" width="8" height="1" fill="#000" />
<rect x="449" y="450" width="8" height="1" fill="#000" />
<rect x="450" y="444" width="1" height="6" fill="#fff" />
<rect x="456" y="436" width="1" height="18.5" fill="#000" />
<rect x="458" y="437" width="3" height="16" fill="#000" />
<rect x="460.5" y="442.5" width="9" height="9" fill="#fff" stroke="#000" stroke-width="1"/>
<rect x="460.5" y="437.5" width="7" height="7" fill="#fff" stroke="#000" stroke-width="1"/>
<rect x="460" y="437" width="8" height="1.4" fill="#000" />
<rect x="461" y="441" width="2" height="2" fill="#000" />
<rect x="463" y="441" width="1" height="4" fill="#000" />
<rect x="667" y="443" width="9" height="1" fill="#000" />
<rect x="667" y="450" width="9" height="1" fill="#000" />
<rect x="667" y="436" width="1" height="18.5" fill="#000" />
<rect x="664" y="437" width="2" height="16" fill="#000" />
<rect x="654.5" y="442.5" width="9" height="9" fill="#fff" stroke="#000" stroke-width="1"/>
<rect x="656.5" y="437.5" width="7.5" height="7" fill="#fff" stroke="#000" stroke-width="1"/>
<rect x="656" y="437" width="8" height="1.4" fill="#000" />
<rect x="661" y="441" width="3" height="2" fill="#000" />
<rect x="661" y="441" width="1" height="4" fill="#000" />
<rect x="474" y="444.5" width="176" height="7.7" fill="#000" />
<rect x="475" y="439" width="174" height="6" fill="#000" />
<rect x="478" y="445" width="4" height="6" fill="#fff" shape-rendering="auto"/>
<rect x="479.2" y="440" width="1.2" height="3.8" fill="#fff" shape-rendering="auto"/>
<rect x="483.87" y="445" width="4" height="6" fill="#fff" shape-rendering="auto"/>
<rect x="485.07" y="440" width="1.2" height="3.8" fill="#fff" shape-rendering="auto"/>
<rect x="489.74" y="445" width="4" height="6" fill="#fff" shape-rendering="auto"/>
<rect x="490.94" y="440" width="1.2" height="3.8" fill="#fff" shape-rendering="auto"/>
<rect x="495.61" y="445" width="4" height="6" fill="#fff" shape-rendering="auto"/>
<rect x="496.81" y="440" width="1.2" height="3.8" fill="#fff" shape-rendering="auto"/>
<rect x="501.48" y="445" width="4" height="6" fill="#fff" shape-rendering="auto"/>
<rect x="502.68" y="440" width="1.2" height="3.8" fill="#fff" shape-rendering="auto"/>
<rect x="507.35" y="445" width="4" height="6" fill="#fff" shape-rendering="auto"/>
<rect x="508.55" y="440" width="1.2" height="3.8" fill="#fff" shape-rendering="auto"/>
<rect x="513.22" y="445" width="4" height="6" fill="#fff" shape-rendering="auto"/>
<rect x="514.42" y="440" width="1.2" height="3.8" fill="#fff" shape-rendering="auto"/>
<rect x="519.09" y="445" width="4" height="6" fill="#fff" shape-rendering="auto"/>
<rect x="520.29" y="440" width="1.2" height="3.8" fill="#fff" shape-rendering="auto"/>
<rect x="524.96" y="445" width="4" height="6" fill="#fff" shape-rendering="auto"/>
<rect x="526.16" y="440" width="1.2" height="3.8" fill="#fff" shape-rendering="auto"/>
<rect x="530.83" y="445" width="4" height="6" fill="#fff" shape-rendering="auto"/>
<rect x="532.03" y="440" width="1.2" height="3.8" fill="#fff" shape-rendering="auto"/>
<rect x="536.7" y="445" width="4" height="6" fill="#fff" shape-rendering="auto"/>
<rect x="537.9" y="440" width="1.2" height="3.8" fill="#fff" shape-rendering="auto"/>
<rect x="542.57" y="445" width="4" height="6" fill="#fff" shape-rendering="auto"/>
<rect x="543.77" y="440" width="1.2" height="3.8" fill="#fff" shape-rendering="auto"/>
<rect x="548.44" y="445" width="4" height="6" fill="#fff" shape-rendering="auto"/>
<rect x="549.64" y="440" width="1.2" height="3.8" fill="#fff" shape-rendering="auto"/>
<rect x="554.31" y="445" width="4" height="6" fill="#fff" shape-rendering="auto"/>
<rect x="555.51" y="440" width="1.2" height="3.8" fill="#fff" shape-rendering="auto"/>
<rect x="560.18" y="445" width="4" height="6" fill="#fff" shape-rendering="auto"/>
<rect x="561.38" y="440" width="1.2" height="3.8" fill="#fff" shape-rendering="auto"/>
<rect x="566.05" y="445" width="4" height="6" fill="#fff" shape-rendering="auto"/>
<rect x="567.25" y="440" width="1.2" height="3.8" fill="#fff" shape-rendering="auto"/>
<rect x="571.92" y="445" width="4" height="6" fill="#fff" shape-rendering="auto"/>
<rect x="573.12" y="440" width="1.2" height="3.8" fill="#fff" shape-rendering="auto"/>
<rect x="577.79" y="445" width="4" height="6" fill="#fff" shape-rendering="auto"/>
<rect x="578.99" y="440" width="1.2" height="3.8" fill="#fff" shape-rendering="auto"/>
<rect x="583.66" y="445" width="4" height="6" fill="#fff" shape-rendering="auto"/>
<rect x="584.86" y="440" width="1.2" height="3.8" fill="#fff" shape-rendering="auto"/>
<rect x="589.53" y="445" width="4" height="6" fill="#fff" shape-rendering="auto"/>
<rect x="590.73" y="440" width="1.2" height="3.8" fill="#fff" shape-rendering="auto"/>
<rect x="595.4" y="445" width="4" height="6" fill="#fff" shape-rendering="auto"/>
<rect x="596.6" y="440" width="1.2" height="3.8" fill="#fff" shape-rendering="auto"/>
<rect x="601.27" y="445" width="4" height="6" fill="#fff" shape-rendering="auto"/>
<rect x="602.47" y="440" width="1.2" height="3.8" fill="#fff" shape-rendering="auto"/>
<rect x="607.14" y="445" width="4" height="6" fill="#fff" shape-rendering="auto"/>
<rect x="608.34" y="440" width="1.2" height="3.8" fill="#fff" shape-rendering="auto"/>
<rect x="613.01" y="445" width="4" height="6" fill="#fff" shape-rendering="auto"/>
<rect x="614.21" y="440" width="1.2" height="3.8" fill="#fff" shape-rendering="auto"/>
<rect x="618.88" y="445" width="4" height="6" fill="#fff" shape-rendering="auto"/>
<rect x="620.08" y="440" width="1.2" height="3.8" fill="#fff" shape-rendering="auto"/>
<rect x="624.75" y="445" width="4" height="6" fill="#fff" shape-rendering="auto"/>
<rect x="625.95" y="440" width="1.2" height="3.8" fill="#fff" shape-rendering="auto"/>
<rect x="630.62" y="445" width="4" height="6" fill="#fff" shape-rendering="auto"/>
<rect x="631.82" y="440" width="1.2" height="3.8" fill="#fff" shape-rendering="auto"/>
<rect x="636.49" y="445" width="4" height="6" fill="#fff" shape-rendering="auto"/>
<rect x="637.69" y="440" width="1.2" height="3.8" fill="#fff" shape-rendering="auto"/>
<rect x="642.36" y="445" width="4" height="6" fill="#fff" shape-rendering="auto"/>
<rect x="643.56" y="440" width="1.2" height="3.8" fill="#fff" shape-rendering="auto"/>
<rect x="475" y="445" width="1" height="6" fill="#fff" />
<rect x="450.5" y="457" width="225" height="18" fill="#fff" stroke="#000" stroke-width="1"/>
<rect x="457" y="473.5" width="211" height="1" fill="#000" />
<rect x="449" y="463.5" width="1" height="8" fill="#000" />
<rect x="449" y="463.5" width="8" height="1" fill="#000" />
<rect x="449" y="470.5" width="8" height="1" fill="#000" />
<rect x="450" y="464.5" width="1" height="6" fill="#fff" />
<rect x="456" y="456.5" width="1" height="18.5" fill="#000" />
<rect x="458" y="457.5" width="3" height="16" fill="#000" />
<rect x="460.5" y="463" width="9" height="9" fill="#fff" stroke="#000" stroke-width="1"/>
<rect x="460.5" y="458" width="7" height="7" fill="#fff" stroke="#000" stroke-width="1"/>
<rect x="460" y="457.5" width="8" height="1.4" fill="#000" />
<rect x="461" y="461.5" width="2" height="2" fill="#000" />
<rect x="463" y="461.5" width="1" height="4" fill="#000" />
<rect x="667" y="463.5" width="9" height="1" fill="#000" />
<rect x="667" y="470.5" width="9" height="1" fill="#000" />
<rect x="667" y="456.5" width="1" height="18.5" fill="#000" />
<rect x="664" y="457.5" width="2" height="16" fill="#000" />
<rect x="654.5" y="463" width="9" height="9" fill="#fff" stroke="#000" stroke-width="1"/>
<rect x="656.5" y="458" width="7.5" height="7" fill="#fff" stroke="#000" stroke-width="1"/>
<rect x="656" y="457.5" width="8" height="1.4" fill="#000" />
<rect x="661" y="461.5" width="3" height="2" fill="#000" />
<rect x="661" y="461.5" width="1" height="4" fill="#000" />
<rect x="474" y="465" width="176" height="7.7" fill="#000" />
<rect x="475" y="459.5" width="174" height="6" fill="#000" />
<rect x="478" y="465.5" width="4" height="6" fill="#fff" shape-rendering="auto"/>
<rect x="479.2" y="460.5" width="1.2" height="3.8" fill="#fff" shape-rendering="auto"/>
<rect x="483.87" y="465.5" width="4" height="6" fill="#fff" shape-rendering="auto"/>
<rect x="485.07" y="460.5" width="1.2" height="3.8" fill="#fff" shape-rendering="auto"/>
<rect x="489.74" y="465.5" width="4" height="6" fill="#fff" shape-rendering="auto"/>
<rect x="490.94" y="460.5" width="1.2" height="3.8" fill="#fff" shape-rendering="auto"/>
<rect x="495.61" y="465.5" width="4" height="6" fill="#fff" shape-rendering="auto"/>
<rect x="496.81" y="460.5" width="1.2" height="3.8" fill="#fff" shape-rendering="auto"/>
<rect x="501.48" y="465.5" width="4" height="6" fill="#fff" shape-rendering="auto"/>
<rect x="502.68" y="460.5" width="1.2" height="3.8" fill="#fff" shape-rendering="auto"/>
<rect x="507.35" y="465.5" width="4" height="6" fill="#fff" shape-rendering="auto"/>
<rect x="508.55" y="460.5" width="1.2" height="3.8" fill="#fff" shape-rendering="auto"/>
<rect x="513.22" y="465.5" width="4" height="6" fill="#fff" shape-rendering="auto"/>
<rect x="514.42" y="460.5" width="1.2" height="3.8" fill="#fff" shape-rendering="auto"/>
<rect x="519.09" y="465.5" width="4" height="6" fill="#fff" shape-rendering="auto"/>
<rect x="520.29" y="460.5" width="1.2" height="3.8" fill="#fff" shape-rendering="auto"/>
<rect x="524.96" y="465.5" width="4" height="6" fill="#fff" shape-rendering="auto"/>
<rect x="526.16" y="460.5" width="1.2" height="3.8" fill="#fff" shape-rendering="auto"/>
<rect x="530.83" y="465.5" width="4" height="6" fill="#fff" shape-rendering="auto"/>
<rect x="532.03" y="460.5" width="1.2" height="3.8" fill="#fff" shape-rendering="auto"/>
<rect x="536.7" y="465.5" width="4" height="6" fill="#fff" shape-rendering="auto"/>
<rect x="537.9" y="460.5" width="1.2" height="3.8" fill="#fff" shape-rendering="auto"/>
<rect x="542.57" y="465.5" width="4" height="6" fill="#fff" shape-rendering="auto"/>
<rect x="543.77" y="460.5" width="1.2" height="3.8" fill="#fff" shape-rendering="auto"/>
<rect x="548.44" y="465.5" width="4" height="6" fill="#fff" shape-rendering="auto"/>
<rect x="549.64" y="460.5" width="1.2" height="3.8" fill="#fff" shape-rendering="auto"/>
<rect x="554.31" y="465.5" width="4" height="6" fill="#fff" shape-rendering="auto"/>
<rect x="555.51" y="460.5" width="1.2" height="3.8" fill="#fff" shape-rendering="auto"/>
<rect x="560.18" y="465.5" width="4" height="6" fill="#fff" shape-rendering="auto"/>
<rect x="561.38" y="460.5" width="1.2" height="3.8" fill="#fff" shape-rendering="auto"/>
<rect x="566.05" y="465.5" width="4" height="6" fill="#fff" shape-rendering="auto"/>
<rect x="567.25" y="460.5" width="1.2" height="3.8" fill="#fff" shape-rendering="auto"/>
<rect x="571.92" y="465.5" width="4" height="6" fill="#fff" shape-rendering="auto"/>
<rect x="573.12" y="460.5" width="1.2" height="3.8" fill="#fff" shape-rendering="auto"/>
<rect x="577.79" y="465.5" width="4" height="6" fill="#fff" shape-rendering="auto"/>
<rect x="578.99" y="460.5" width="1.2" height="3.8" fill="#fff" shape-rendering="auto"/>
<rect x="583.66" y="465.5" width="4" height="6" fill="#fff" shape-rendering="auto"/>
<rect x="584.86" y="460.5" width="1.2" height="3.8" fill="#fff" shape-rendering="auto"/>
<rect x="589.53" y="465.5" width="4" height="6" fill="#fff" shape-rendering="auto"/>
<rect x="590.73" y="460.5" width="1.2" height="3.8" fill="#fff" shape-rendering="auto"/>
<rect x="595.4" y="465.5" width="4" height="6" fill="#fff" shape-rendering="auto"/>
<rect x="596.6" y="460.5" width="1.2" height="3.8" fill="#fff" shape-rendering="auto"/>
<rect x="601.27" y="465.5" width="4" height="6" fill="#fff" shape-rendering="auto"/>
<rect x="602.47" y="460.5" width="1.2" height="3.8" fill="#fff" shape-rendering="auto"/>
<rect x="607.14" y="465.5" width="4" height="6" fill="#fff" shape-rendering="auto"/>
<rect x="608.34" y="460.5" width="1.2" height="3.8" fill="#fff" shape-rendering="auto"/>
<rect x="613.01" y="465.5" width="4" height="6" fill="#fff" shape-rendering="auto"/>
<rect x="614.21" y="460.5" width="1.2" height="3.8" fill="#fff" shape-rendering="auto"/>
<rect x="618.88" y="465.5" width="4" height="6" fill="#fff" shape-rendering="auto"/>
<rect x="620.08" y="460.5" width="1.2" height="3.8" fill="#fff" shape-rendering="auto"/>
<rect x="624.75" y="465.5" width="4" height="6" fill="#fff" shape-rendering="auto"/>
<rect x="625.95" y="460.5" width="1.2" height="3.8" fill="#fff" shape-rendering="auto"/>
<rect x="630.62" y="465.5" width="4" height="6" fill="#fff" shape-rendering="auto"/>
<rect x="631.82" y="460.5" width="1.2" height="3.8" fill="#fff" shape-rendering="auto"/>
<rect x="636.49" y="465.5" width="4" height="6" fill="#fff" shape-rendering="auto"/>
<rect x="637.69" y="460.5" width="1.2" height="3.8" fill="#fff" shape-rendering="auto"/>
<rect x="642.36" y="465.5" width="4" height="6" fill="#fff" shape-rendering="auto"/>
<rect x="643.56" y="460.5" width="1.2" height="3.8" fill="#fff" shape-rendering="auto"/>
<rect x="475" y="465.5" width="1" height="6" fill="#fff" />
<rect x="450.5" y="476.5" width="225" height="18" fill="#fff" stroke="#000" stroke-width="1"/>
<rect x="457" y="493" width="211" height="1" fill="#000" />
<rect x="449" y="483" width="1" height="8" fill="#000" />
<rect x="449" y="483" width="8" height="1" fill="#000" />
<rect x="449" y="490" width="8" height="1" fill="#000" />
<rect x="450" y="484" width="1" height="6" fill="#fff" />
<rect x="456" y="476" width="1" height="18.5" fill="#000" />
<rect x="458" y="477" width="3" height="16" fill="#000" />
<rect x="460.5" y="482.5" width="9" height="9" fill="#fff" stroke="#000" stroke-width="1"/>
<rect x="460.5" y="477.5" width="7" height="7" fill="#fff" stroke="#000" stroke-width="1"/>
<rect x="460" y="477" width="8" height="1.4" fill="#000" />
<rect x="461" y="481" width="2" height="2" fill="#000" />
<rect x="463" y="481" width="1" height="4" fill="#000" />
<rect x="667" y="483" width="9" height="1" fill="#000" />
<rect x="667" y="490" width="9" height="1" fill="#000" />
<rect x="667" y="476" width="1" height="18.5" fill="#000" />
<rect x="664" y="477" width="2" height="16" fill="#000" />
<rect x="654.5" y="482.5" width="9" height="9" fill="#fff" stroke="#000" stroke-width="1"/>
<rect x="656.5" y="477.5" width="7.5" height="7" fill="#fff" stroke="#000" stroke-width="1"/>
<rect x="656" y="477" width="8" height="1.4" fill="#000" />
<rect x="661" y="481" width="3" height="2" fill="#000" />
<rect x="661" y="481" width="1" height="4" fill="#000" />
<rect x="474" y="484.5" width="176" height="7.7" fill="#000" />
<rect x="475" y="479" width="174" height="6" fill="#000" />
<rect x="478" y="485" width="4" height="6" fill="#fff" shape-rendering="auto"/>
<rect x="479.2" y="480" width="1.2" height="3.8" fill="#fff" shape-rendering="auto"/>
<rect x="483.87" y="485" width="4" height="6" fill="#fff" shape-rendering="auto"/>
<rect x="485.07" y="480" width="1.2" height="3.8" fill="#fff" shape-rendering="auto"/>
<rect x="489.74" y="485" width="4" height="6" fill="#fff" shape-rendering="auto"/>
<rect x="490.94" y="480" width="1.2" height="3.8" fill="#fff" shape-rendering="auto"/>
<rect x="495.61" y="485" width="4" height="6" fill="#fff" shape-rendering="auto"/>
<rect x="496.81" y="480" width="1.2" height="3.8" fill="#fff" shape-rendering="auto"/>
<rect x="501.48" y="485" width="4" height="6" fill="#fff" shape-rendering="auto"/>
<rect x="502.68" y="480" width="1.2" height="3.8" fill="#fff" shape-rendering="auto"/>
<rect x="507.35" y="485" width="4" height="6" fill="#fff" shape-rendering="auto"/>
<rect x="508.55" y="480" width="1.2" height="3.8" fill="#fff" shape-rendering="auto"/>
<rect x="513.22" y="485" width="4" height="6" fill="#fff" shape-rendering="auto"/>
<rect x="514.42" y="480" width="1.2" height="3.8" fill="#fff" shape-rendering="auto"/>
<rect x="519.09" y="485" width="4" height="6" fill="#fff" shape-rendering="auto"/>
<rect x="520.29" y="480" width="1.2" height="3.8" fill="#fff" shape-rendering="auto"/>
<rect x="524.96" y="485" width="4" height="6" fill="#fff" shape-rendering="auto"/>
<rect x="526.16" y="480" width="1.2" height="3.8" fill="#fff" shape-rendering="auto"/>
<rect x="530.83" y="485" width="4" height="6" fill="#fff" shape-rendering="auto"/>
<rect x="532.03" y="480" width="1.2" height="3.8" fill="#fff" shape-rendering="auto"/>
<rect x="536.7" y="485" width="4" height="6" fill="#fff" shape-rendering="auto"/>
<rect x="537.9" y="480" width="1.2" height="3.8" fill="#fff" shape-rendering="auto"/>
<rect x="542.57" y="485" width="4" height="6" fill="#fff" shape-rendering="auto"/>
<rect x="543.77" y="480" width="1.2" height="3.8" fill="#fff" shape-rendering="auto"/>
<rect x="548.44" y="485" width="4" height="6" fill="#fff" shape-rendering="auto"/>
<rect x="549.64" y="480" width="1.2" height="3.8" fill="#fff" shape-rendering="auto"/>
<rect x="554.31" y="485" width="4" height="6" fill="#fff" shape-rendering="auto"/>
<rect x="555.51" y="480" width="1.2" height="3.8" fill="#fff" shape-rendering="auto"/>
<rect x="560.18" y="485" width="4" height="6" fill="#fff" shape-rendering="auto"/>
<rect x="561.38" y="480" width="1.2" height="3.8" fill="#fff" shape-rendering="auto"/>
<rect x="566.05" y="485" width="4" height="6" fill="#fff" shape-rendering="auto"/>
<rect x="567.25" y="480" width="1.2" height="3.8" fill="#fff" shape-rendering="auto"/>
<rect x="571.92" y="485" width="4" height="6" fill="#fff" shape-rendering="auto"/>
<rect x="573.12" y="480" width="1.2" height="3.8" fill="#fff" shape-rendering="auto"/>
<rect x="577.79" y="485" width="4" height="6" fill="#fff" shape-rendering="auto"/>
<rect x="578.99" y="480" width="1.2" height="3.8" fill="#fff" shape-rendering="auto"/>
<rect x="583.66" y="485" width="4" height="6" fill="#fff" shape-rendering="auto"/>
<rect x="584.86" y="480" width="1.2" height="3.8" fill="#fff" shape-rendering="auto"/>
<rect x="589.53" y="485" width="4" height="6" fill="#fff" shape-rendering="auto"/>
<rect x="590.73" y="480" width="1.2" height="3.8" fill="#fff" shape-rendering="auto"/>
<rect x="595.4" y="485" width="4" height="6" fill="#fff" shape-rendering="auto"/>
<rect x="596.6" y="480" width="1.2" height="3.8" fill="#fff" shape-rendering="auto"/>
<rect x="601.27" y="485" width="4" height="6" fill="#fff" shape-rendering="auto"/>
<rect x="602.47" y="480" width="1.2" height="3.8" fill="#fff" shape-rendering="auto"/>
<rect x="607.14" y="485" width="4" height="6" fill="#fff" shape-rendering="auto"/>
<rect x="608.34" y="480" width="1.2" height="3.8" fill="#fff" shape-rendering="auto"/>
<rect x="613.01" y="485" width="4" height="6" fill="#fff" shape-rendering="auto"/>
<rect x="614.21" y="480" width="1.2" height="3.8" fill="#fff" shape-rendering="auto"/>
<rect x="618.88" y="485" width="4" height="6" fill="#fff" shape-rendering="auto"/>
<rect x="620.08" y="480" width="1.2" height="3.8" fill="#fff" shape-rendering="auto"/>
<rect x="624.75" y="485" width="4" height="6" fill="#fff" shape-rendering="auto"/>
<rect x="625.95" y="480" width="1.2" height="3.8" fill="#fff" shape-rendering="auto"/>
<rect x="630.62" y="485" width="4" height="6" fill="#fff" shape-rendering="auto"/>
<rect x="631.82" y="480" width="1.2" height="3.8" fill="#fff" shape-rendering="auto"/>
<rect x="636.49" y="485" width="4" height="6" fill="#fff" shape-rendering="auto"/>
<rect x="637.69" y="480" width="1.2" height="3.8" fill="#fff" shape-rendering="auto"/>
<rect x="642.36" y="485" width="4" height="6" fill="#fff" shape-rendering="auto"/>
<rect x="643.56" y="480" width="1.2" height="3.8" fill="#fff" shape-rendering="auto"/>
<rect x="475" y="485" width="1" height="6" fill="#fff" />
<rect x="450.5" y="496.5" width="225" height="18" fill="#fff" stroke="#000" stroke-width="1"/>
<rect x="457" y="513" width="211" height="1" fill="#000" />
<rect x="449" y="503" width="1" height="8" fill="#000" />
<rect x="449" y="503" width="8" height="1" fill="#000" />
<rect x="449" y="510" width="8" height="1" fill="#000" />
<rect x="450" y="504" width="1" height="6" fill="#fff" />
<rect x="456" y="496" width="1" height="18.5" fill="#000" />
<rect x="458" y="497" width="3" height="16" fill="#000" />
<rect x="460.5" y="502.5" width="9" height="9" fill="#fff" stroke="#000" stroke-width="1"/>
<rect x="460.5" y="497.5" width="7" height="7" fill="#fff" stroke="#000" stroke-width="1"/>
<rect x="460" y="497" width="8" height="1.4" fill="#000" />
<rect x="461" y="501" width="2" height="2" fill="#000" />
<rect x="463" y="501" width="1" height="4" fill="#000" />
<rect x="667" y="503" width="9" height="1" fill="#000" />
<rect x="667" y="510" width="9" height="1" fill="#000" />
<rect x="667" y="496" width="1" height="18.5" fill="#000" />
<rect x="664" y="497" width="2" height="16" fill="#000" />
<rect x="654.5" y="502.5" width="9" height="9" fill="#fff" stroke="#000" stroke-width="1"/>
<rect x="656.5" y="497.5" width="7.5" height="7" fill="#fff" stroke="#000" stroke-width="1"/>
<rect x="656" y="497" width="8" height="1.4" fill="#000" />
<rect x="661" y="501" width="3" height="2" fill="#000" />
<rect x="661" y="501" width="1" height="4" fill="#000" />
<rect x="474" y="504.5" width="176" height="7.7" fill="#000" />
<rect x="475" y="499" width="174" height="6" fill="#000" />
<rect x="478" y="505" width="4" height="6" fill="#fff" shape-rendering="auto"/>
<rect x="479.2" y="500" width="1.2" height="3.8" fill="#fff" shape-rendering="auto"/>
<rect x="483.87" y="505" width="4" height="6" fill="#fff" shape-rendering="auto"/>
<rect x="485.07" y="500" width="1.2" height="3.8" fill="#fff" shape-rendering="auto"/>
<rect x="489.74" y="505" width="4" height="6" fill="#fff" shape-rendering="auto"/>
<rect x="490.94" y="500" width="1.2" height="3.8" fill="#fff" shape-rendering="auto"/>
<rect x="495.61" y="505" width="4" height="6" fill="#fff" shape-rendering="auto"/>
<rect x="496.81" y="500" width="1.2" height="3.8" fill="#fff" shape-rendering="auto"/>
<rect x="501.48" y="505" width="4" height="6" fill="#fff" shape-rendering="auto"/>
<rect x="502.68" y="500" width="1.2" height="3.8" fill="#fff" shape-rendering="auto"/>
<rect x="507.35" y="505" width="4" height="6" fill="#fff" shape-rendering="auto"/>
<rect x="508.55" y="500" width="1.2" height="3.8" fill="#fff" shape-rendering="auto"/>
<rect x="513.22" y="505" width="4" height="6" fill="#fff" shape-rendering="auto"/>
<rect x="514.42" y="500" width="1.2" height="3.8" fill="#fff" shape-rendering="auto"/>
<rect x="519.09" y="505" width="4" height="6" fill="#fff" shape-rendering="auto"/>
<rect x="520.29" y="500" width="1.2" height="3.8" fill="#fff" shape-rendering="auto"/>
<rect x="524.96" y="505" width="4" height="6" fill="#fff" shape-rendering="auto"/>
<rect x="526.16" y="500" width="1.2" height="3.8" fill="#fff" shape-rendering="auto"/>
<rect x="530.83" y="505" width="4" height="6" fill="#fff" shape-rendering="auto"/>
<rect x="532.03" y="500" width="1.2" height="3.8" fill="#fff" shape-rendering="auto"/>
<rect x="536.7" y="505" width="4" height="6" fill="#fff" shape-rendering="auto"/>
<rect x="537.9" y="500" width="1.2" height="3.8" fill="#fff" shape-rendering="auto"/>
<rect x="542.57" y="505" width="4" height="6" fill="#fff" shape-rendering="auto"/>
<rect x="543.77" y="500" width="1.2" height="3.8" fill="#fff" shape-rendering="auto"/>
<rect x="548.44" y="505" width="4" height="6" fill="#fff" shape-rendering="auto"/>
<rect x="549.64" y="500" width="1.2" height="3.8" fill="#fff" shape-rendering="auto"/>
<rect x="554.31" y="505" width="4" height="6" fill="#fff" shape-rendering="auto"/>
<rect x="555.51" y="500" width="1.2" height="3.8" fill="#fff" shape-rendering="auto"/>
<rect x="560.18" y="505" width="4" height="6" fill="#fff" shape-rendering="auto"/>
<rect x="561.38" y="500" width="1.2" height="3.8" fill="#fff" shape-rendering="auto"/>
<rect x="566.05" y="505" width="4" height="6" fill="#fff" shape-rendering="auto"/>
<rect x="567.25" y="500" width="1.2" height="3.8" fill="#fff" shape-rendering="auto"/>
<rect x="571.92" y="505" width="4" height="6" fill="#fff" shape-rendering="auto"/>
<rect x="573.12" y="500" width="1.2" height="3.8" fill="#fff" shape-rendering="auto"/>
<rect x="577.79" y="505" width="4" height="6" fill="#fff" shape-rendering="auto"/>
<rect x="578.99" y="500" width="1.2" height="3.8" fill="#fff" shape-rendering="auto"/>
<rect x="583.66" y="505" width="4" height="6" fill="#fff" shape-rendering="auto"/>
<rect x="584.86" y="500" width="1.2" height="3.8" fill="#fff" shape-rendering="auto"/>
<rect x="589.53" y="505" width="4" height="6" fill="#fff" shape-rendering="auto"/>
<rect x="590.73" y="500" width="1.2" height="3.8" fill="#fff" shape-rendering="auto"/>
<rect x="595.4" y="505" width="4" height="6" fill="#fff" shape-rendering="auto"/>
<rect x="596.6" y="500" width="1.2" height="3.8" fill="#fff" shape-rendering="auto"/>
<rect x="601.27" y="505" width="4" height="6" fill="#fff" shape-rendering="auto"/>
<rect x="602.47" y="500" width="1.2" height="3.8" fill="#fff" shape-rendering="auto"/>
<rect x="607.14" y="505" width="4" height="6" fill="#fff" shape-rendering="auto"/>
<rect x="608.34" y="500" width="1.2" height="3.8" fill="#fff" shape-rendering="auto"/>
<rect x="613.01" y="505" width="4" height="6" fill="#fff" shape-rendering="auto"/>
<rect x="614.21" y="500" width="1.2" height="3.8" fill="#fff" shape-rendering="auto"/>
<rect x="618.88" y="505" width="4" height="6" fill="#fff" shape-rendering="auto"/>
<rect x="620.08" y="500" width="1.2" height="3.8" fill="#fff" shape-rendering="auto"/>
<rect x="624.75" y="505" width="4" height="6" fill="#fff" shape-rendering="auto"/>
<rect x="625.95" y="500" width="1.2" height="3.8" fill="#fff" shape-rendering="auto"/>
<rect x="630.62" y="505" width="4" height="6" fill="#fff" shape-rendering="auto"/>
<rect x="631.82" y="500" width="1.2" height="3.8" fill="#fff" shape-rendering="auto"/>
<rect x="636.49" y="505" width="4" height="6" fill="#fff" shape-rendering="auto"/>
<rect x="637.69" y="500" width="1.2" height="3.8" fill="#fff" shape-rendering="auto"/>
<rect x="642.36" y="505" width="4" height="6" fill="#fff" shape-rendering="auto"/>
<rect x="643.56" y="500" width="1.2" height="3.8" fill="#fff" shape-rendering="auto"/>
<rect x="475" y="505" width="1" height="6" fill="#fff" />
<rect x="450.5" y="516.5" width="225" height="18" fill="#fff" stroke="#000" stroke-width="1"/>
<rect x="457" y="533" width="211" height="1" fill="#000" />
<rect x="449" y="523" width="1" height="8" fill="#000" />
<rect x="449" y="523" width="8" height="1" fill="#000" />
<rect x="449" y="530" width="8" height="1" fill="#000" />
<rect x="450" y="524" width="1" height="6" fill="#fff" />
<rect x="456" y="516" width="1" height="18.5" fill="#000" />
<rect x="458" y="517" width="3" height="16" fill="#000" />
<rect x="460.5" y="522.5" width="9" height="9" fill="#fff" stroke="#000" stroke-width="1"/>
<rect x="460.5" y="517.5" width="7" height="7" fill="#fff" stroke="#000" stroke-width="1"/>
<rect x="460" y="517" width="8" height="1.4" fill="#000" />
<rect x="461" y="521" width="2" height="2" fill="#000" />
<rect x="463" y="521" width="1" height="4" fill="#000" />
<rect x="667" y="523" width="9" height="1" fill="#000" />
<rect x="667" y="530" width="9" height="1" fill="#000" />
<rect x="667" y="516" width="1" height="18.5" fill="#000" />
<rect x="664" y="517" width="2" height="16" fill="#000" />
<rect x="654.5" y="522.5" width="9" height="9" fill="#fff" stroke="#000" stroke-width="1"/>
<rect x="656.5" y="517.5" width="7.5" height="7" fill="#fff" stroke="#000" stroke-width="1"/>
<rect x="656" y="517" width="8" height="1.4" fill="#000" />
<rect x="661" y="521" width="3" height="2" fill="#000" />
<rect x="661" y="521" width="1" height="4" fill="#000" />
<rect x="474" y="524.5" width="176" height="7.7" fill="#000" />
<rect x="475" y="519" width="174" height="6" fill="#000" />
<rect x="478" y="525" width="4" height="6" fill="#fff" shape-rendering="auto"/>
<rect x="479.2" y="520" width="1.2" height="3.8" fill="#fff" shape-rendering="auto"/>
<rect x="483.87" y="525" width="4" height="6" fill="#fff" shape-rendering="auto"/>
<rect x="485.07" y="520" width="1.2" height="3.8" fill="#fff" shape-rendering="auto"/>
<rect x="489.74" y="525" width="4" height="6" fill="#fff" shape-rendering="auto"/>
<rect x="490.94" y="520" width="1.2" height="3.8" fill="#fff" shape-rendering="auto"/>
<rect x="495.61" y="525" width="4" height="6" fill="#fff" shape-rendering="auto"/>
<rect x="496.81" y="520" width="1.2" height="3.8" fill="#fff" shape-rendering="auto"/>
<rect x="501.48" y="525" width="4" height="6" fill="#fff" shape-rendering="auto"/>
<rect x="502.68" y="520" width="1.2" height="3.8" fill="#fff" shape-rendering="auto"/>
<rect x="507.35" y="525" width="4" height="6" fill="#fff" shape-rendering="auto"/>
<rect x="508.55" y="520" width="1.2" height="3.8" fill="#fff" shape-rendering="auto"/>
<rect x="513.22" y="525" width="4" height="6" fill="#fff" shape-rendering="auto"/>
<rect x="514.42" y="520" width="1.2" height="3.8" fill="#fff" shape-rendering="auto"/>
<rect x="519.09" y="525" width="4" height="6" fill="#fff" shape-rendering="auto"/>
<rect x="520.29" y="520" width="1.2" height="3.8" fill="#fff" shape-rendering="auto"/>
<rect x="524.96" y="525" width="4" height="6" fill="#fff" shape-rendering="auto"/>
<rect x="526.16" y="520" width="1.2" height="3.8" fill="#fff" shape-rendering="auto"/>
<rect x="530.83" y="525" width="4" height="6" fill="#fff" shape-rendering="auto"/>
<rect x="532.03" y="520" width="1.2" height="3.8" fill="#fff" shape-rendering="auto"/>
<rect x="536.7" y="525" width="4" height="6" fill="#fff" shape-rendering="auto"/>
<rect x="537.9" y="520" width="1.2" height="3.8" fill="#fff" shape-rendering="auto"/>
<rect x="542.57" y="525" width="4" height="6" fill="#fff" shape-rendering="auto"/>
<rect x="543.77" y="520" width="1.2" height="3.8" fill="#fff" shape-rendering="auto"/>
<rect x="548.44" y="525" width="4" height="6" fill="#fff" shape-rendering="auto"/>
<rect x="549.64" y="520" width="1.2" height="3.8" fill="#fff" shape-rendering="auto"/>
<rect x="554.31" y="525" width="4" height="6" fill="#fff" shape-rendering="auto"/>
<rect x="555.51" y="520" width="1.2" height="3.8" fill="#fff" shape-rendering="auto"/>
<rect x="560.18" y="525" width="4" height="6" fill="#fff" shape-rendering="auto"/>
<rect x="561.38" y="520" width="1.2" height="3.8" fill="#fff" shape-rendering="auto"/>
<rect x="566.05" y="525" width="4" height="6" fill="#fff" shape-rendering="auto"/>
<rect x="567.25" y="520" width="1.2" height="3.8" fill="#fff" shape-rendering="auto"/>
<rect x="571.92" y="525" width="4" height="6" fill="#fff" shape-rendering="auto"/>
<rect x="573.12" y="520" width="1.2" height="3.8" fill="#fff" shape-rendering="auto"/>
<rect x="577.79" y="525" width="4" height="6" fill="#fff" shape-rendering="auto"/>
<rect x="578.99" y="520" width="1.2" height="3.8" fill="#fff" shape-rendering="auto"/>
<rect x="583.66" y="525" width="4" height="6" fill="#fff" shape-rendering="auto"/>
<rect x="584.86" y="520" width="1.2" height="3.8" fill="#fff" shape-rendering="auto"/>
<rect x="589.53" y="525" width="4" height="6" fill="#fff" shape-rendering="auto"/>
<rect x="590.73" y="520" width="1.2" height="3.8" fill="#fff" shape-rendering="auto"/>
<rect x="595.4" y="525" width="4" height="6" fill="#fff" shape-rendering="auto"/>
<rect x="596.6" y="520" width="1.2" height="3.8" fill="#fff" shape-rendering="auto"/>
<rect x="601.27" y="525" width="4" height="6" fill="#fff" shape-rendering="auto"/>
<rect x="602.47" y="520" width="1.2" height="3.8" fill="#fff" shape-rendering="auto"/>
<rect x="607.14" y="525" width="4" height="6" fill="#fff" shape-rendering="auto"/>
<rect x="608.34" y="520" width="1.2" height="3.8" fill="#fff" shape-rendering="auto"/>
<rect x="613.01" y="525" width="4" height="6" fill="#fff" shape-rendering="auto"/>
<rect x="614.21" y="520" width="1.2" height="3.8" fill="#fff" shape-rendering="auto"/>
<rect x="618.88" y="525" width="4" height="6" fill="#fff" shape-rendering="auto"/>
<rect x="620.08" y="520" width="1.2" height="3.8" fill="#fff" shape-rendering="auto"/>
<rect x="624.75" y="525" width="4" height="6" fill="#fff" shape-rendering="auto"/>
<rect x="625.95" y="520" width="1.2" height="3.8" fill="#fff" shape-rendering="auto"/>
<rect x="630.62" y="525" width="4" height="6" fill="#fff" shape-rendering="auto"/>
<rect x="631.82" y="520" width="1.2" height="3.8" fill="#fff" shape-rendering="auto"/>
<rect x="636.49" y="525" width="4" height="6" fill="#fff" shape-rendering="auto"/>
<rect x="637.69" y="520" width="1.2" height="3.8" fill="#fff" shape-rendering="auto"/>
<rect x="642.36" y="525" width="4" height="6" fill="#fff" shape-rendering="auto"/>
<rect x="643.56" y="520" width="1.2" height="3.8" fill="#fff" shape-rendering="auto"/>
<rect x="475" y="525" width="1" height="6" fill="#fff" />
<rect x="534.8" y="407.8" width="55.4" height="13.8" rx="2.5" ry="2.5" fill="#fff" stroke="#000" stroke-width="1.6"/>
<text x="535.9" y="418.8" font-size="14" textLength="48.6" lengthAdjust="spacingAndGlyphs">BANK 0</text>
<rect x="534.8" y="487.8" width="55.4" height="14.4" rx="2.5" ry="2.5" fill="#fff" stroke="#000" stroke-width="1.6"/>
<text x="536.3" y="499.1" font-size="14" textLength="47.8" lengthAdjust="spacingAndGlyphs">BANK 1</text>
<rect x="790" y="364" width="7" height="25.8" fill="#000" />
<rect x="791" y="369.2" width="5" height="2" fill="#fff" />
<rect x="791" y="375.4" width="5" height="2" fill="#fff" />
<rect x="791" y="381.6" width="5" height="1.2" fill="#fff" />
<rect x="791" y="383.8" width="5" height="5" fill="#fff" />
<rect x="792" y="384.8" width="3" height="2.8" fill="#000" />
<rect x="792.7" y="385.5" width="1.6" height="1.4" fill="#fff" shape-rendering="auto"/>
<polygon points="772,372.8 789,376 772,379.2" fill="#fff" stroke="#000" stroke-width="1.6" stroke-linejoin="miter"/>
<polygon points="778.46,374.016 789,376 778.46,377.984" fill="#000" stroke="#000" stroke-width="1"/>
<rect x="738.1" y="368.1" width="33.8" height="16.4" rx="2.6" ry="2.6" fill="#fff" stroke="#000" stroke-width="2.2"/>
<rect x="770.6" y="373.6" width="2.6" height="4.8" fill="#fff" />
<text x="742.3" y="380.4" font-size="14" textLength="23.2" lengthAdjust="spacingAndGlyphs">JP2</text>
<rect x="720.5" y="411.5" width="24" height="111" fill="#fff" stroke="#000" stroke-width="1"/>
<rect x="744" y="411" width="1.4" height="112" fill="#000" />
<polygon points="723.5,412 725,414 727,414 728,412.6 729,414 731,414 732,412" fill="#000" shape-rendering="auto"/>
<rect x="723.5" y="417.5" width="7" height="6" fill="#fff" stroke="#000" stroke-width="1"/>
<rect x="723.5" y="426.5" width="7" height="6" fill="#fff" stroke="#000" stroke-width="1"/>
<rect x="723.5" y="436.5" width="7" height="6" fill="#fff" stroke="#000" stroke-width="1"/>
<rect x="723.5" y="445.5" width="7" height="6" fill="#fff" stroke="#000" stroke-width="1"/>
<rect x="723.5" y="454.5" width="7" height="6" fill="#fff" stroke="#000" stroke-width="1"/>
<rect x="723.5" y="464.5" width="7" height="6" fill="#fff" stroke="#000" stroke-width="1"/>
<rect x="723.5" y="473.5" width="7" height="6" fill="#fff" stroke="#000" stroke-width="1"/>
<rect x="723.5" y="483.5" width="7" height="6" fill="#fff" stroke="#000" stroke-width="1"/>
<rect x="723.5" y="492.5" width="7" height="6" fill="#fff" stroke="#000" stroke-width="1"/>
<rect x="723.5" y="501.5" width="7" height="6" fill="#fff" stroke="#000" stroke-width="1"/>
<rect x="723.5" y="511.5" width="7" height="6" fill="#fff" stroke="#000" stroke-width="1"/>
<rect x="732" y="413" width="2" height="7" fill="#000" />
<rect x="737" y="413" width="4" height="7" fill="#000" />
<rect x="739" y="414" width="1" height="5" fill="#fff" />
<rect x="732" y="422" width="2" height="7" fill="#000" />
<rect x="737" y="422" width="4" height="7" fill="#000" />
<rect x="739" y="423" width="1" height="5" fill="#fff" />
<rect x="732" y="431" width="2" height="7" fill="#000" />
<rect x="737" y="431" width="4" height="7" fill="#000" />
<rect x="739" y="432" width="1" height="5" fill="#fff" />
<rect x="732" y="441" width="2" height="7" fill="#000" />
<rect x="737" y="441" width="4" height="7" fill="#000" />
<rect x="739" y="442" width="1" height="5" fill="#fff" />
<rect x="732" y="450" width="2" height="7" fill="#000" />
<rect x="737" y="450" width="4" height="7" fill="#000" />
<rect x="739" y="451" width="1" height="5" fill="#fff" />
<rect x="732" y="459" width="2" height="7" fill="#000" />
<rect x="737" y="459" width="4" height="7" fill="#000" />
<rect x="739" y="460" width="1" height="5" fill="#fff" />
<rect x="732" y="468" width="2" height="7" fill="#000" />
<rect x="737" y="468" width="4" height="7" fill="#000" />
<rect x="739" y="469" width="1" height="5" fill="#fff" />
<rect x="732" y="477" width="2" height="7" fill="#000" />
<rect x="737" y="477" width="4" height="7" fill="#000" />
<rect x="739" y="478" width="1" height="5" fill="#fff" />
<rect x="732" y="487" width="2" height="7" fill="#000" />
<rect x="737" y="487" width="4" height="7" fill="#000" />
<rect x="739" y="488" width="1" height="5" fill="#fff" />
<rect x="732" y="496" width="2" height="7" fill="#000" />
<rect x="737" y="496" width="4" height="7" fill="#000" />
<rect x="739" y="497" width="1" height="5" fill="#fff" />
<rect x="732" y="505" width="2" height="7" fill="#000" />
<rect x="737" y="505" width="4" height="7" fill="#000" />
<rect x="739" y="506" width="1" height="5" fill="#fff" />
<rect x="732" y="514" width="2" height="7" fill="#000" />
<rect x="737" y="514" width="4" height="7" fill="#000" />
<rect x="739" y="515" width="1" height="5" fill="#fff" />
<rect x="736" y="412" width="1" height="110" fill="#000" />
<rect x="725" y="520" width="1" height="2" fill="#000" />
<rect x="728.6" y="520" width="1" height="2" fill="#000" />
<path d="M777,414.5 L797,414.5 Q800.5,414.5 800.5,418 L800.5,423 L799.5,425 L799.5,431 L800.5,433 L800.5,437 L799.5,439 L799.5,445 L800.5,447 L800.5,451 Q800.5,454.5 797,454.5 L777,454.5 Q774.5,454.5 774.5,451 L774.5,447 L775.5,445 L775.5,439 L774.5,437 L774.5,433 L775.5,431 L775.5,425 L774.5,423 L774.5,418 Q774.5,414.5 777,414.5 Z" fill="url(#ht)" stroke="#000" stroke-width="1"/>
<rect x="789" y="476" width="29" height="37" fill="#000" />
<rect x="813" y="471" width="5" height="47" fill="#000" />
<rect x="816" y="469" width="2" height="51" fill="#000" />
<rect x="782.9" y="484.5" width="6" height="7.4" fill="#fff" stroke="#000" stroke-width="1"/>
<rect x="782.9" y="496.9" width="6" height="7.2" fill="#fff" stroke="#000" stroke-width="1"/>
<rect x="786.5" y="482.5" width="3" height="23.5" fill="none" stroke="#000" stroke-width="1"/>
</svg>
</body>
</html>
